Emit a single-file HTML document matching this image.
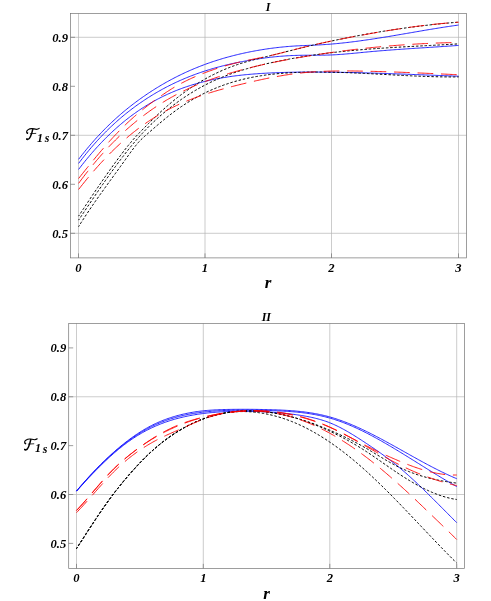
<!DOCTYPE html>
<html><head><meta charset="utf-8"><title>plot</title>
<style>
html,body{margin:0;padding:0;background:#fff;}
body{width:491px;height:601px;overflow:hidden;font-family:"Liberation Serif",serif;}
svg{display:block;}
.g{stroke:#b6b6b6;stroke-width:0.7;fill:none;}
.f{stroke:#747474;stroke-width:0.7;fill:none;}
.t{stroke:#747474;stroke-width:0.7;fill:none;}
.b{stroke:#0000ff;stroke-width:0.85;fill:none;}
.r{stroke:#ff0000;stroke-width:0.9;fill:none;stroke-dasharray:15.7 7.8;}
.k{stroke:#000;stroke-width:1.0;fill:none;stroke-dasharray:2.5 1.8;stroke-dashoffset:1}
text{filter:grayscale(1);font-family:"Liberation Serif",serif;font-weight:bold;font-style:italic;fill:#000;}
.n{font-size:12.6px;}
.ti{font-size:12px;}
.ax{font-size:17px;}
.sub{font-size:12px;}
</style></head><body>
<svg width="491" height="601" viewBox="0 0 491 601">
<rect x="0" y="0" width="491" height="601" fill="#fff"/>
<!-- top plot -->
<line class="g" x1="78.50" y1="13.5" x2="78.50" y2="257.9"/>
<line class="g" x1="205.00" y1="13.5" x2="205.00" y2="257.9"/>
<line class="g" x1="331.50" y1="13.5" x2="331.50" y2="257.9"/>
<line class="g" x1="458.50" y1="13.5" x2="458.50" y2="257.9"/>
<line class="g" x1="70.5" y1="37.30" x2="466.4" y2="37.30"/>
<line class="g" x1="70.5" y1="135.30" x2="466.4" y2="135.30"/>
<line class="g" x1="70.5" y1="233.30" x2="466.4" y2="233.30"/>
<rect class="f" x="70.5" y="13.5" width="395.90" height="244.40"/>
<line class="t" x1="78.50" y1="257.9" x2="78.50" y2="253.39999999999998"/>
<line class="t" x1="205.00" y1="257.9" x2="205.00" y2="253.39999999999998"/>
<line class="t" x1="331.50" y1="257.9" x2="331.50" y2="253.39999999999998"/>
<line class="t" x1="458.50" y1="257.9" x2="458.50" y2="253.39999999999998"/>
<line class="t" x1="70.5" y1="37.30" x2="75.0" y2="37.30"/>
<line class="t" x1="70.5" y1="86.30" x2="75.0" y2="86.30"/>
<line class="t" x1="70.5" y1="135.30" x2="75.0" y2="135.30"/>
<line class="t" x1="70.5" y1="184.30" x2="75.0" y2="184.30"/>
<line class="t" x1="70.5" y1="233.30" x2="75.0" y2="233.30"/>
<text class="n" x="78.50" y="271.7" text-anchor="middle">0</text>
<text class="n" x="205.00" y="271.7" text-anchor="middle">1</text>
<text class="n" x="331.50" y="271.7" text-anchor="middle">2</text>
<text class="n" x="458.50" y="271.7" text-anchor="middle">3</text>
<text class="n" x="68.0" y="41.70" text-anchor="end">0.9</text>
<text class="n" x="68.0" y="90.70" text-anchor="end">0.8</text>
<text class="n" x="68.0" y="139.70" text-anchor="end">0.7</text>
<text class="n" x="68.0" y="188.70" text-anchor="end">0.6</text>
<text class="n" x="68.0" y="237.70" text-anchor="end">0.5</text>
<path class="b" d="M78.60,159.32 L79.87,157.67 L81.14,156.03 L82.41,154.42 L83.68,152.83 L84.95,151.25 L86.23,149.70 L87.50,148.16 L88.77,146.65 L90.04,145.15 L91.31,143.67 L92.58,142.21 L93.85,140.77 L95.12,139.35 L96.39,137.94 L97.66,136.56 L98.93,135.19 L100.21,133.83 L101.48,132.50 L102.75,131.18 L104.02,129.88 L105.29,128.59 L106.56,127.32 L107.83,126.07 L109.10,124.83 L110.37,123.61 L111.64,122.40 L112.91,121.21 L114.19,120.04 L115.46,118.87 L116.73,117.73 L118.00,116.59 L119.27,115.47 L120.54,114.37 L121.81,113.28 L123.08,112.20 L124.35,111.14 L125.62,110.09 L126.89,109.05 L128.17,108.02 L129.44,107.01 L130.71,106.01 L131.98,105.02 L133.25,104.04 L134.52,103.08 L135.79,102.12 L137.06,101.18 L138.33,100.25 L139.60,99.32 L140.87,98.41 L142.15,97.51 L143.42,96.62 L144.69,95.74 L145.96,94.87 L147.23,94.01 L148.50,93.16 L149.77,92.32 L151.04,91.49 L152.31,90.67 L153.58,89.86 L154.85,89.06 L156.13,88.26 L157.40,87.48 L158.67,86.71 L159.94,85.94 L161.21,85.19 L162.48,84.44 L163.75,83.71 L165.02,82.98 L166.29,82.26 L167.56,81.55 L168.83,80.85 L170.11,80.16 L171.38,79.48 L172.65,78.80 L173.92,78.14 L175.19,77.48 L176.46,76.83 L177.73,76.20 L179.00,75.56 L180.27,74.94 L181.54,74.33 L182.81,73.72 L184.08,73.12 L185.36,72.53 L186.63,71.95 L187.90,71.38 L189.17,70.81 L190.44,70.25 L191.71,69.70 L192.98,69.16 L194.25,68.63 L195.52,68.10 L196.79,67.58 L198.06,67.07 L199.34,66.57 L200.61,66.07 L201.88,65.58 L203.15,65.10 L204.42,64.62 L205.69,64.15 L206.96,63.69 L208.23,63.24 L209.50,62.79 L210.77,62.35 L212.04,61.92 L213.32,61.49 L214.59,61.08 L215.86,60.66 L217.13,60.26 L218.40,59.86 L219.67,59.46 L220.94,59.08 L222.21,58.70 L223.48,58.32 L224.75,57.96 L226.02,57.59 L227.30,57.24 L228.57,56.89 L229.84,56.55 L231.11,56.21 L232.38,55.88 L233.65,55.55 L234.92,55.23 L236.19,54.92 L237.46,54.61 L238.73,54.31 L240.00,54.01 L241.28,53.72 L242.55,53.43 L243.82,53.15 L245.09,52.88 L246.36,52.61 L247.63,52.34 L248.90,52.08 L250.17,51.82 L251.44,51.57 L252.71,51.33 L253.98,51.09 L255.26,50.85 L256.53,50.62 L257.80,50.40 L259.07,50.18 L260.34,49.96 L261.61,49.75 L262.88,49.55 L264.15,49.35 L265.42,49.15 L266.69,48.96 L267.96,48.78 L269.24,48.60 L270.51,48.42 L271.78,48.25 L273.05,48.08 L274.32,47.92 L275.59,47.77 L276.86,47.62 L278.13,47.47 L279.40,47.33 L280.67,47.20 L281.94,47.07 L283.22,46.94 L284.49,46.82 L285.76,46.70 L287.03,46.59 L288.30,46.49 L289.57,46.39 L290.84,46.29 L292.11,46.20 L293.38,46.11 L294.65,46.03 L295.92,45.96 L297.20,45.88 L298.47,45.82 L299.74,45.75 L301.01,45.69 L302.28,45.63 L303.55,45.58 L304.82,45.52 L306.09,45.47 L307.36,45.42 L308.63,45.37 L309.90,45.32 L311.18,45.27 L312.45,45.21 L313.72,45.16 L314.99,45.10 L316.26,45.05 L317.53,44.98 L318.80,44.92 L320.07,44.85 L321.34,44.78 L322.61,44.70 L323.88,44.62 L325.16,44.54 L326.43,44.45 L327.70,44.36 L328.97,44.26 L330.24,44.16 L331.51,44.05 L332.78,43.95 L334.05,43.84 L335.32,43.72 L336.59,43.60 L337.86,43.48 L339.14,43.36 L340.41,43.23 L341.68,43.10 L342.95,42.96 L344.22,42.82 L345.49,42.68 L346.76,42.54 L348.03,42.39 L349.30,42.24 L350.57,42.09 L351.84,41.93 L353.12,41.77 L354.39,41.61 L355.66,41.45 L356.93,41.28 L358.20,41.11 L359.47,40.94 L360.74,40.77 L362.01,40.59 L363.28,40.42 L364.55,40.24 L365.82,40.05 L367.09,39.87 L368.37,39.68 L369.64,39.50 L370.91,39.30 L372.18,39.11 L373.45,38.92 L374.72,38.72 L375.99,38.53 L377.26,38.33 L378.53,38.13 L379.80,37.93 L381.07,37.72 L382.35,37.52 L383.62,37.31 L384.89,37.11 L386.16,36.90 L387.43,36.69 L388.70,36.48 L389.97,36.27 L391.24,36.05 L392.51,35.84 L393.78,35.63 L395.05,35.41 L396.33,35.20 L397.60,34.98 L398.87,34.76 L400.14,34.55 L401.41,34.33 L402.68,34.11 L403.95,33.89 L405.22,33.68 L406.49,33.46 L407.76,33.24 L409.03,33.02 L410.31,32.80 L411.58,32.58 L412.85,32.36 L414.12,32.14 L415.39,31.92 L416.66,31.71 L417.93,31.49 L419.20,31.27 L420.47,31.05 L421.74,30.84 L423.01,30.62 L424.29,30.40 L425.56,30.19 L426.83,29.97 L428.10,29.76 L429.37,29.55 L430.64,29.34 L431.91,29.13 L433.18,28.92 L434.45,28.71 L435.72,28.50 L436.99,28.29 L438.27,28.09 L439.54,27.88 L440.81,27.68 L442.08,27.48 L443.35,27.28 L444.62,27.08 L445.89,26.89 L447.16,26.69 L448.43,26.50 L449.70,26.31 L450.97,26.12 L452.25,25.93 L453.52,25.75 L454.79,25.57 L456.06,25.39 L457.33,25.21 L458.60,25.03"/>
<path class="b" d="M78.60,163.42 L79.87,161.73 L81.14,160.07 L82.41,158.42 L83.68,156.80 L84.95,155.20 L86.23,153.62 L87.50,152.06 L88.77,150.52 L90.04,149.00 L91.31,147.50 L92.58,146.02 L93.85,144.56 L95.12,143.13 L96.39,141.71 L97.66,140.31 L98.93,138.92 L100.21,137.56 L101.48,136.22 L102.75,134.89 L104.02,133.58 L105.29,132.29 L106.56,131.02 L107.83,129.76 L109.10,128.52 L110.37,127.30 L111.64,126.10 L112.91,124.91 L114.19,123.74 L115.46,122.58 L116.73,121.44 L118.00,120.32 L119.27,119.21 L120.54,118.11 L121.81,117.03 L123.08,115.97 L124.35,114.92 L125.62,113.88 L126.89,112.86 L128.17,111.86 L129.44,110.86 L130.71,109.88 L131.98,108.92 L133.25,107.96 L134.52,107.02 L135.79,106.09 L137.06,105.17 L138.33,104.27 L139.60,103.38 L140.87,102.50 L142.15,101.63 L143.42,100.77 L144.69,99.92 L145.96,99.09 L147.23,98.26 L148.50,97.45 L149.77,96.65 L151.04,95.86 L152.31,95.08 L153.58,94.30 L154.85,93.54 L156.13,92.79 L157.40,92.06 L158.67,91.33 L159.94,90.61 L161.21,89.90 L162.48,89.20 L163.75,88.51 L165.02,87.83 L166.29,87.16 L167.56,86.50 L168.83,85.85 L170.11,85.21 L171.38,84.58 L172.65,83.96 L173.92,83.34 L175.19,82.74 L176.46,82.15 L177.73,81.56 L179.00,80.98 L180.27,80.41 L181.54,79.85 L182.81,79.30 L184.08,78.76 L185.36,78.23 L186.63,77.70 L187.90,77.19 L189.17,76.68 L190.44,76.17 L191.71,75.68 L192.98,75.20 L194.25,74.72 L195.52,74.25 L196.79,73.79 L198.06,73.33 L199.34,72.89 L200.61,72.45 L201.88,72.02 L203.15,71.59 L204.42,71.17 L205.69,70.76 L206.96,70.36 L208.23,69.96 L209.50,69.57 L210.77,69.19 L212.04,68.81 L213.32,68.44 L214.59,68.08 L215.86,67.72 L217.13,67.37 L218.40,67.03 L219.67,66.69 L220.94,66.36 L222.21,66.03 L223.48,65.71 L224.75,65.39 L226.02,65.08 L227.30,64.78 L228.57,64.48 L229.84,64.19 L231.11,63.90 L232.38,63.62 L233.65,63.34 L234.92,63.07 L236.19,62.80 L237.46,62.54 L238.73,62.29 L240.00,62.03 L241.28,61.79 L242.55,61.54 L243.82,61.30 L245.09,61.07 L246.36,60.84 L247.63,60.61 L248.90,60.39 L250.17,60.17 L251.44,59.96 L252.71,59.75 L253.98,59.55 L255.26,59.34 L256.53,59.15 L257.80,58.96 L259.07,58.77 L260.34,58.58 L261.61,58.40 L262.88,58.23 L264.15,58.06 L265.42,57.89 L266.69,57.73 L267.96,57.57 L269.24,57.42 L270.51,57.27 L271.78,57.13 L273.05,56.99 L274.32,56.86 L275.59,56.73 L276.86,56.61 L278.13,56.49 L279.40,56.38 L280.67,56.28 L281.94,56.17 L283.22,56.08 L284.49,55.99 L285.76,55.90 L287.03,55.82 L288.30,55.74 L289.57,55.68 L290.84,55.61 L292.11,55.55 L293.38,55.50 L294.65,55.46 L295.92,55.41 L297.20,55.38 L298.47,55.35 L299.74,55.32 L301.01,55.30 L302.28,55.28 L303.55,55.27 L304.82,55.26 L306.09,55.25 L307.36,55.24 L308.63,55.24 L309.90,55.23 L311.18,55.23 L312.45,55.23 L313.72,55.23 L314.99,55.22 L316.26,55.22 L317.53,55.21 L318.80,55.20 L320.07,55.19 L321.34,55.18 L322.61,55.17 L323.88,55.15 L325.16,55.12 L326.43,55.10 L327.70,55.07 L328.97,55.03 L330.24,54.98 L331.51,54.94 L332.78,54.88 L334.05,54.82 L335.32,54.75 L336.59,54.68 L337.86,54.60 L339.14,54.51 L340.41,54.42 L341.68,54.33 L342.95,54.23 L344.22,54.13 L345.49,54.03 L346.76,53.92 L348.03,53.81 L349.30,53.69 L350.57,53.58 L351.84,53.46 L353.12,53.34 L354.39,53.22 L355.66,53.10 L356.93,52.97 L358.20,52.85 L359.47,52.72 L360.74,52.60 L362.01,52.48 L363.28,52.35 L364.55,52.23 L365.82,52.11 L367.09,51.99 L368.37,51.87 L369.64,51.76 L370.91,51.64 L372.18,51.53 L373.45,51.41 L374.72,51.30 L375.99,51.19 L377.26,51.09 L378.53,50.98 L379.80,50.87 L381.07,50.77 L382.35,50.67 L383.62,50.57 L384.89,50.47 L386.16,50.37 L387.43,50.27 L388.70,50.17 L389.97,50.07 L391.24,49.98 L392.51,49.88 L393.78,49.79 L395.05,49.70 L396.33,49.60 L397.60,49.51 L398.87,49.42 L400.14,49.33 L401.41,49.24 L402.68,49.16 L403.95,49.07 L405.22,48.98 L406.49,48.89 L407.76,48.81 L409.03,48.72 L410.31,48.64 L411.58,48.55 L412.85,48.47 L414.12,48.39 L415.39,48.30 L416.66,48.22 L417.93,48.14 L419.20,48.05 L420.47,47.97 L421.74,47.89 L423.01,47.81 L424.29,47.72 L425.56,47.64 L426.83,47.56 L428.10,47.48 L429.37,47.39 L430.64,47.31 L431.91,47.23 L433.18,47.15 L434.45,47.06 L435.72,46.98 L436.99,46.90 L438.27,46.82 L439.54,46.73 L440.81,46.65 L442.08,46.56 L443.35,46.48 L444.62,46.39 L445.89,46.31 L447.16,46.22 L448.43,46.14 L449.70,46.05 L450.97,45.96 L452.25,45.87 L453.52,45.78 L454.79,45.69 L456.06,45.60 L457.33,45.51 L458.60,45.42"/>
<path class="b" d="M78.60,169.41 L79.87,167.75 L81.14,166.11 L82.41,164.49 L83.68,162.89 L84.95,161.31 L86.23,159.75 L87.50,158.20 L88.77,156.68 L90.04,155.17 L91.31,153.69 L92.58,152.22 L93.85,150.77 L95.12,149.34 L96.39,147.93 L97.66,146.54 L98.93,145.16 L100.21,143.81 L101.48,142.47 L102.75,141.15 L104.02,139.84 L105.29,138.55 L106.56,137.29 L107.83,136.03 L109.10,134.80 L110.37,133.58 L111.64,132.38 L112.91,131.19 L114.19,130.03 L115.46,128.87 L116.73,127.74 L118.00,126.62 L119.27,125.52 L120.54,124.43 L121.81,123.36 L123.08,122.30 L124.35,121.26 L125.62,120.24 L126.89,119.23 L128.17,118.24 L129.44,117.26 L130.71,116.29 L131.98,115.34 L133.25,114.41 L134.52,113.49 L135.79,112.58 L137.06,111.69 L138.33,110.81 L139.60,109.95 L140.87,109.10 L142.15,108.26 L143.42,107.44 L144.69,106.63 L145.96,105.84 L147.23,105.06 L148.50,104.29 L149.77,103.53 L151.04,102.79 L152.31,102.06 L153.58,101.34 L154.85,100.64 L156.13,99.94 L157.40,99.26 L158.67,98.60 L159.94,97.94 L161.21,97.30 L162.48,96.66 L163.75,96.04 L165.02,95.43 L166.29,94.83 L167.56,94.25 L168.83,93.67 L170.11,93.11 L171.38,92.55 L172.65,92.01 L173.92,91.48 L175.19,90.95 L176.46,90.44 L177.73,89.94 L179.00,89.45 L180.27,88.97 L181.54,88.49 L182.81,88.03 L184.08,87.58 L185.36,87.14 L186.63,86.70 L187.90,86.28 L189.17,85.86 L190.44,85.45 L191.71,85.06 L192.98,84.67 L194.25,84.29 L195.52,83.91 L196.79,83.55 L198.06,83.20 L199.34,82.85 L200.61,82.51 L201.88,82.18 L203.15,81.85 L204.42,81.53 L205.69,81.22 L206.96,80.92 L208.23,80.63 L209.50,80.34 L210.77,80.06 L212.04,79.78 L213.32,79.52 L214.59,79.26 L215.86,79.00 L217.13,78.76 L218.40,78.52 L219.67,78.28 L220.94,78.05 L222.21,77.83 L223.48,77.61 L224.75,77.40 L226.02,77.20 L227.30,77.00 L228.57,76.81 L229.84,76.62 L231.11,76.44 L232.38,76.26 L233.65,76.09 L234.92,75.92 L236.19,75.76 L237.46,75.61 L238.73,75.45 L240.00,75.31 L241.28,75.17 L242.55,75.03 L243.82,74.90 L245.09,74.77 L246.36,74.64 L247.63,74.52 L248.90,74.41 L250.17,74.29 L251.44,74.19 L252.71,74.08 L253.98,73.98 L255.26,73.88 L256.53,73.79 L257.80,73.70 L259.07,73.61 L260.34,73.53 L261.61,73.45 L262.88,73.37 L264.15,73.30 L265.42,73.22 L266.69,73.15 L267.96,73.09 L269.24,73.02 L270.51,72.96 L271.78,72.90 L273.05,72.85 L274.32,72.79 L275.59,72.74 L276.86,72.69 L278.13,72.64 L279.40,72.59 L280.67,72.55 L281.94,72.51 L283.22,72.47 L284.49,72.43 L285.76,72.40 L287.03,72.36 L288.30,72.33 L289.57,72.30 L290.84,72.27 L292.11,72.25 L293.38,72.22 L294.65,72.20 L295.92,72.18 L297.20,72.16 L298.47,72.14 L299.74,72.13 L301.01,72.12 L302.28,72.10 L303.55,72.09 L304.82,72.08 L306.09,72.08 L307.36,72.07 L308.63,72.06 L309.90,72.06 L311.18,72.06 L312.45,72.06 L313.72,72.06 L314.99,72.06 L316.26,72.06 L317.53,72.07 L318.80,72.07 L320.07,72.08 L321.34,72.09 L322.61,72.10 L323.88,72.11 L325.16,72.12 L326.43,72.13 L327.70,72.14 L328.97,72.16 L330.24,72.17 L331.51,72.19 L332.78,72.20 L334.05,72.22 L335.32,72.24 L336.59,72.26 L337.86,72.28 L339.14,72.30 L340.41,72.32 L341.68,72.34 L342.95,72.37 L344.22,72.39 L345.49,72.41 L346.76,72.44 L348.03,72.46 L349.30,72.49 L350.57,72.52 L351.84,72.55 L353.12,72.57 L354.39,72.60 L355.66,72.63 L356.93,72.66 L358.20,72.69 L359.47,72.73 L360.74,72.76 L362.01,72.79 L363.28,72.83 L364.55,72.86 L365.82,72.89 L367.09,72.93 L368.37,72.96 L369.64,73.00 L370.91,73.04 L372.18,73.07 L373.45,73.11 L374.72,73.15 L375.99,73.19 L377.26,73.23 L378.53,73.27 L379.80,73.31 L381.07,73.35 L382.35,73.39 L383.62,73.43 L384.89,73.47 L386.16,73.51 L387.43,73.56 L388.70,73.60 L389.97,73.64 L391.24,73.69 L392.51,73.73 L393.78,73.77 L395.05,73.82 L396.33,73.86 L397.60,73.91 L398.87,73.95 L400.14,74.00 L401.41,74.04 L402.68,74.09 L403.95,74.14 L405.22,74.18 L406.49,74.23 L407.76,74.28 L409.03,74.33 L410.31,74.37 L411.58,74.42 L412.85,74.47 L414.12,74.52 L415.39,74.56 L416.66,74.61 L417.93,74.66 L419.20,74.71 L420.47,74.76 L421.74,74.81 L423.01,74.85 L424.29,74.90 L425.56,74.95 L426.83,75.00 L428.10,75.05 L429.37,75.10 L430.64,75.15 L431.91,75.20 L433.18,75.25 L434.45,75.29 L435.72,75.34 L436.99,75.39 L438.27,75.44 L439.54,75.49 L440.81,75.54 L442.08,75.59 L443.35,75.64 L444.62,75.68 L445.89,75.73 L447.16,75.78 L448.43,75.83 L449.70,75.88 L450.97,75.93 L452.25,75.97 L453.52,76.02 L454.79,76.07 L456.06,76.11 L457.33,76.16 L458.60,76.21"/>
<path class="k" d="M78.60,216.15 L79.87,214.21 L81.14,212.28 L82.41,210.35 L83.68,208.43 L84.95,206.51 L86.23,204.59 L87.50,202.68 L88.77,200.77 L90.04,198.87 L91.31,196.98 L92.58,195.08 L93.85,193.20 L95.12,191.32 L96.39,189.45 L97.66,187.58 L98.93,185.72 L100.21,183.87 L101.48,182.02 L102.75,180.19 L104.02,178.36 L105.29,176.54 L106.56,174.72 L107.83,172.92 L109.10,171.12 L110.37,169.34 L111.64,167.56 L112.91,165.79 L114.19,164.04 L115.46,162.29 L116.73,160.55 L118.00,158.82 L119.27,157.11 L120.54,155.41 L121.81,153.72 L123.08,152.05 L124.35,150.40 L125.62,148.77 L126.89,147.16 L128.17,145.58 L129.44,144.02 L130.71,142.48 L131.98,140.98 L133.25,139.50 L134.52,138.05 L135.79,136.64 L137.06,135.27 L138.33,133.92 L139.60,132.59 L140.87,131.28 L142.15,129.97 L143.42,128.67 L144.69,127.38 L145.96,126.09 L147.23,124.82 L148.50,123.55 L149.77,122.29 L151.04,121.04 L152.31,119.80 L153.58,118.57 L154.85,117.35 L156.13,116.14 L157.40,114.94 L158.67,113.75 L159.94,112.57 L161.21,111.40 L162.48,110.24 L163.75,109.10 L165.02,107.96 L166.29,106.84 L167.56,105.73 L168.83,104.64 L170.11,103.55 L171.38,102.48 L172.65,101.43 L173.92,100.39 L175.19,99.36 L176.46,98.34 L177.73,97.34 L179.00,96.35 L180.27,95.38 L181.54,94.42 L182.81,93.48 L184.08,92.54 L185.36,91.62 L186.63,90.72 L187.90,89.83 L189.17,88.95 L190.44,88.08 L191.71,87.23 L192.98,86.39 L194.25,85.56 L195.52,84.75 L196.79,83.94 L198.06,83.15 L199.34,82.38 L200.61,81.61 L201.88,80.86 L203.15,80.12 L204.42,79.40 L205.69,78.68 L206.96,77.98 L208.23,77.29 L209.50,76.61 L210.77,75.94 L212.04,75.29 L213.32,74.65 L214.59,74.02 L215.86,73.40 L217.13,72.79 L218.40,72.19 L219.67,71.61 L220.94,71.03 L222.21,70.47 L223.48,69.92 L224.75,69.38 L226.02,68.85 L227.30,68.33 L228.57,67.82 L229.84,67.33 L231.11,66.84 L232.38,66.36 L233.65,65.90 L234.92,65.44 L236.19,65.00 L237.46,64.57 L238.73,64.14 L240.00,63.73 L241.28,63.33 L242.55,62.93 L243.82,62.54 L245.09,62.17 L246.36,61.80 L247.63,61.43 L248.90,61.08 L250.17,60.73 L251.44,60.38 L252.71,60.04 L253.98,59.71 L255.26,59.38 L256.53,59.05 L257.80,58.73 L259.07,58.41 L260.34,58.09 L261.61,57.78 L262.88,57.47 L264.15,57.16 L265.42,56.85 L266.69,56.54 L267.96,56.23 L269.24,55.92 L270.51,55.60 L271.78,55.29 L273.05,54.98 L274.32,54.66 L275.59,54.35 L276.86,54.03 L278.13,53.71 L279.40,53.40 L280.67,53.08 L281.94,52.76 L283.22,52.44 L284.49,52.12 L285.76,51.80 L287.03,51.48 L288.30,51.17 L289.57,50.85 L290.84,50.53 L292.11,50.21 L293.38,49.90 L294.65,49.58 L295.92,49.26 L297.20,48.95 L298.47,48.64 L299.74,48.33 L301.01,48.02 L302.28,47.71 L303.55,47.40 L304.82,47.09 L306.09,46.79 L307.36,46.49 L308.63,46.19 L309.90,45.89 L311.18,45.59 L312.45,45.29 L313.72,45.00 L314.99,44.70 L316.26,44.41 L317.53,44.12 L318.80,43.83 L320.07,43.55 L321.34,43.26 L322.61,42.98 L323.88,42.69 L325.16,42.41 L326.43,42.13 L327.70,41.86 L328.97,41.58 L330.24,41.30 L331.51,41.03 L332.78,40.76 L334.05,40.49 L335.32,40.22 L336.59,39.96 L337.86,39.69 L339.14,39.43 L340.41,39.17 L341.68,38.91 L342.95,38.65 L344.22,38.39 L345.49,38.13 L346.76,37.88 L348.03,37.63 L349.30,37.38 L350.57,37.13 L351.84,36.88 L353.12,36.64 L354.39,36.39 L355.66,36.15 L356.93,35.91 L358.20,35.67 L359.47,35.43 L360.74,35.20 L362.01,34.96 L363.28,34.73 L364.55,34.50 L365.82,34.27 L367.09,34.04 L368.37,33.82 L369.64,33.59 L370.91,33.37 L372.18,33.15 L373.45,32.93 L374.72,32.71 L375.99,32.49 L377.26,32.28 L378.53,32.07 L379.80,31.86 L381.07,31.65 L382.35,31.44 L383.62,31.23 L384.89,31.03 L386.16,30.83 L387.43,30.63 L388.70,30.43 L389.97,30.23 L391.24,30.03 L392.51,29.84 L393.78,29.65 L395.05,29.46 L396.33,29.27 L397.60,29.08 L398.87,28.90 L400.14,28.71 L401.41,28.53 L402.68,28.35 L403.95,28.17 L405.22,27.99 L406.49,27.82 L407.76,27.64 L409.03,27.47 L410.31,27.30 L411.58,27.13 L412.85,26.97 L414.12,26.80 L415.39,26.64 L416.66,26.48 L417.93,26.32 L419.20,26.16 L420.47,26.01 L421.74,25.85 L423.01,25.70 L424.29,25.55 L425.56,25.40 L426.83,25.25 L428.10,25.11 L429.37,24.96 L430.64,24.82 L431.91,24.68 L433.18,24.54 L434.45,24.40 L435.72,24.27 L436.99,24.14 L438.27,24.01 L439.54,23.88 L440.81,23.75 L442.08,23.62 L443.35,23.50 L444.62,23.38 L445.89,23.26 L447.16,23.14 L448.43,23.02 L449.70,22.90 L450.97,22.79 L452.25,22.68 L453.52,22.57 L454.79,22.46 L456.06,22.36 L457.33,22.25 L458.60,22.15"/>
<path class="k" d="M78.60,220.12 L79.87,218.22 L81.14,216.31 L82.41,214.41 L83.68,212.51 L84.95,210.61 L86.23,208.71 L87.50,206.81 L88.77,204.92 L90.04,203.03 L91.31,201.14 L92.58,199.26 L93.85,197.38 L95.12,195.50 L96.39,193.63 L97.66,191.76 L98.93,189.91 L100.21,188.05 L101.48,186.21 L102.75,184.37 L104.02,182.54 L105.29,180.72 L106.56,178.91 L107.83,177.10 L109.10,175.31 L110.37,173.53 L111.64,171.75 L112.91,169.99 L114.19,168.24 L115.46,166.50 L116.73,164.77 L118.00,163.06 L119.27,161.36 L120.54,159.67 L121.81,158.00 L123.08,156.34 L124.35,154.70 L125.62,153.07 L126.89,151.46 L128.17,149.87 L129.44,148.29 L130.71,146.73 L131.98,145.18 L133.25,143.66 L134.52,142.15 L135.79,140.67 L137.06,139.20 L138.33,137.75 L139.60,136.32 L140.87,134.92 L142.15,133.53 L143.42,132.17 L144.69,130.82 L145.96,129.50 L147.23,128.20 L148.50,126.91 L149.77,125.64 L151.04,124.40 L152.31,123.17 L153.58,121.96 L154.85,120.76 L156.13,119.59 L157.40,118.43 L158.67,117.29 L159.94,116.16 L161.21,115.05 L162.48,113.96 L163.75,112.88 L165.02,111.82 L166.29,110.77 L167.56,109.74 L168.83,108.72 L170.11,107.72 L171.38,106.73 L172.65,105.75 L173.92,104.78 L175.19,103.83 L176.46,102.90 L177.73,101.97 L179.00,101.06 L180.27,100.16 L181.54,99.27 L182.81,98.39 L184.08,97.53 L185.36,96.68 L186.63,95.84 L187.90,95.02 L189.17,94.21 L190.44,93.41 L191.71,92.62 L192.98,91.84 L194.25,91.08 L195.52,90.33 L196.79,89.59 L198.06,88.86 L199.34,88.14 L200.61,87.44 L201.88,86.74 L203.15,86.06 L204.42,85.39 L205.69,84.74 L206.96,84.09 L208.23,83.46 L209.50,82.83 L210.77,82.22 L212.04,81.62 L213.32,81.03 L214.59,80.45 L215.86,79.88 L217.13,79.32 L218.40,78.77 L219.67,78.24 L220.94,77.71 L222.21,77.19 L223.48,76.68 L224.75,76.17 L226.02,75.68 L227.30,75.20 L228.57,74.73 L229.84,74.26 L231.11,73.80 L232.38,73.35 L233.65,72.91 L234.92,72.48 L236.19,72.05 L237.46,71.63 L238.73,71.22 L240.00,70.82 L241.28,70.42 L242.55,70.03 L243.82,69.65 L245.09,69.27 L246.36,68.90 L247.63,68.54 L248.90,68.18 L250.17,67.83 L251.44,67.48 L252.71,67.14 L253.98,66.81 L255.26,66.48 L256.53,66.15 L257.80,65.83 L259.07,65.52 L260.34,65.21 L261.61,64.90 L262.88,64.60 L264.15,64.30 L265.42,64.01 L266.69,63.71 L267.96,63.43 L269.24,63.14 L270.51,62.86 L271.78,62.59 L273.05,62.31 L274.32,62.04 L275.59,61.77 L276.86,61.51 L278.13,61.24 L279.40,60.98 L280.67,60.73 L281.94,60.47 L283.22,60.22 L284.49,59.97 L285.76,59.73 L287.03,59.49 L288.30,59.25 L289.57,59.01 L290.84,58.78 L292.11,58.55 L293.38,58.32 L294.65,58.10 L295.92,57.87 L297.20,57.65 L298.47,57.44 L299.74,57.22 L301.01,57.01 L302.28,56.80 L303.55,56.60 L304.82,56.39 L306.09,56.19 L307.36,55.99 L308.63,55.80 L309.90,55.61 L311.18,55.42 L312.45,55.23 L313.72,55.04 L314.99,54.86 L316.26,54.68 L317.53,54.50 L318.80,54.33 L320.07,54.15 L321.34,53.98 L322.61,53.81 L323.88,53.65 L325.16,53.48 L326.43,53.32 L327.70,53.16 L328.97,53.01 L330.24,52.85 L331.51,52.70 L332.78,52.55 L334.05,52.40 L335.32,52.26 L336.59,52.12 L337.86,51.98 L339.14,51.84 L340.41,51.70 L341.68,51.57 L342.95,51.43 L344.22,51.30 L345.49,51.17 L346.76,51.05 L348.03,50.92 L349.30,50.80 L350.57,50.68 L351.84,50.56 L353.12,50.44 L354.39,50.33 L355.66,50.21 L356.93,50.10 L358.20,49.99 L359.47,49.88 L360.74,49.77 L362.01,49.67 L363.28,49.56 L364.55,49.46 L365.82,49.36 L367.09,49.26 L368.37,49.16 L369.64,49.06 L370.91,48.97 L372.18,48.87 L373.45,48.78 L374.72,48.69 L375.99,48.60 L377.26,48.51 L378.53,48.42 L379.80,48.33 L381.07,48.25 L382.35,48.16 L383.62,48.08 L384.89,48.00 L386.16,47.91 L387.43,47.83 L388.70,47.75 L389.97,47.67 L391.24,47.60 L392.51,47.52 L393.78,47.44 L395.05,47.37 L396.33,47.29 L397.60,47.22 L398.87,47.14 L400.14,47.07 L401.41,47.00 L402.68,46.93 L403.95,46.85 L405.22,46.78 L406.49,46.71 L407.76,46.64 L409.03,46.57 L410.31,46.50 L411.58,46.44 L412.85,46.37 L414.12,46.30 L415.39,46.23 L416.66,46.16 L417.93,46.10 L419.20,46.03 L420.47,45.96 L421.74,45.90 L423.01,45.83 L424.29,45.76 L425.56,45.70 L426.83,45.63 L428.10,45.56 L429.37,45.50 L430.64,45.43 L431.91,45.36 L433.18,45.30 L434.45,45.23 L435.72,45.16 L436.99,45.09 L438.27,45.02 L439.54,44.96 L440.81,44.89 L442.08,44.82 L443.35,44.75 L444.62,44.68 L445.89,44.61 L447.16,44.54 L448.43,44.47 L449.70,44.40 L450.97,44.32 L452.25,44.25 L453.52,44.18 L454.79,44.10 L456.06,44.03 L457.33,43.95 L458.60,43.87"/>
<path class="k" d="M78.60,226.63 L79.87,224.60 L81.14,222.60 L82.41,220.61 L83.68,218.65 L84.95,216.70 L86.23,214.77 L87.50,212.85 L88.77,210.96 L90.04,209.07 L91.31,207.21 L92.58,205.35 L93.85,203.51 L95.12,201.68 L96.39,199.86 L97.66,198.06 L98.93,196.26 L100.21,194.47 L101.48,192.69 L102.75,190.91 L104.02,189.15 L105.29,187.38 L106.56,185.63 L107.83,183.87 L109.10,182.12 L110.37,180.38 L111.64,178.63 L112.91,176.88 L114.19,175.14 L115.46,173.39 L116.73,171.65 L118.00,169.90 L119.27,168.14 L120.54,166.38 L121.81,164.62 L123.08,162.85 L124.35,161.08 L125.62,159.30 L126.89,157.51 L128.17,155.72 L129.44,153.95 L130.71,152.19 L131.98,150.46 L133.25,148.77 L134.52,147.12 L135.79,145.52 L137.06,143.99 L138.33,142.52 L139.60,141.13 L140.87,139.82 L142.15,138.59 L143.42,137.42 L144.69,136.28 L145.96,135.16 L147.23,134.04 L148.50,132.92 L149.77,131.81 L151.04,130.70 L152.31,129.59 L153.58,128.49 L154.85,127.39 L156.13,126.30 L157.40,125.21 L158.67,124.13 L159.94,123.05 L161.21,121.99 L162.48,120.93 L163.75,119.88 L165.02,118.84 L166.29,117.81 L167.56,116.80 L168.83,115.79 L170.11,114.80 L171.38,113.82 L172.65,112.85 L173.92,111.90 L175.19,110.96 L176.46,110.04 L177.73,109.13 L179.00,108.23 L180.27,107.35 L181.54,106.49 L182.81,105.63 L184.08,104.80 L185.36,103.97 L186.63,103.16 L187.90,102.37 L189.17,101.58 L190.44,100.81 L191.71,100.06 L192.98,99.32 L194.25,98.59 L195.52,97.87 L196.79,97.17 L198.06,96.48 L199.34,95.80 L200.61,95.13 L201.88,94.48 L203.15,93.84 L204.42,93.21 L205.69,92.59 L206.96,91.99 L208.23,91.39 L209.50,90.81 L210.77,90.24 L212.04,89.68 L213.32,89.14 L214.59,88.60 L215.86,88.08 L217.13,87.56 L218.40,87.06 L219.67,86.57 L220.94,86.09 L222.21,85.62 L223.48,85.16 L224.75,84.71 L226.02,84.27 L227.30,83.84 L228.57,83.42 L229.84,83.01 L231.11,82.61 L232.38,82.22 L233.65,81.84 L234.92,81.47 L236.19,81.11 L237.46,80.76 L238.73,80.41 L240.00,80.08 L241.28,79.75 L242.55,79.44 L243.82,79.13 L245.09,78.83 L246.36,78.54 L247.63,78.25 L248.90,77.98 L250.17,77.71 L251.44,77.45 L252.71,77.20 L253.98,76.96 L255.26,76.72 L256.53,76.49 L257.80,76.27 L259.07,76.06 L260.34,75.85 L261.61,75.65 L262.88,75.46 L264.15,75.27 L265.42,75.09 L266.69,74.92 L267.96,74.75 L269.24,74.59 L270.51,74.44 L271.78,74.29 L273.05,74.15 L274.32,74.01 L275.59,73.88 L276.86,73.76 L278.13,73.64 L279.40,73.52 L280.67,73.41 L281.94,73.31 L283.22,73.21 L284.49,73.12 L285.76,73.03 L287.03,72.95 L288.30,72.87 L289.57,72.79 L290.84,72.72 L292.11,72.65 L293.38,72.59 L294.65,72.53 L295.92,72.48 L297.20,72.43 L298.47,72.38 L299.74,72.34 L301.01,72.30 L302.28,72.26 L303.55,72.22 L304.82,72.19 L306.09,72.17 L307.36,72.14 L308.63,72.12 L309.90,72.10 L311.18,72.09 L312.45,72.07 L313.72,72.06 L314.99,72.06 L316.26,72.05 L317.53,72.05 L318.80,72.05 L320.07,72.06 L321.34,72.06 L322.61,72.07 L323.88,72.08 L325.16,72.09 L326.43,72.11 L327.70,72.13 L328.97,72.15 L330.24,72.17 L331.51,72.19 L332.78,72.22 L334.05,72.25 L335.32,72.28 L336.59,72.31 L337.86,72.35 L339.14,72.38 L340.41,72.42 L341.68,72.46 L342.95,72.50 L344.22,72.54 L345.49,72.59 L346.76,72.63 L348.03,72.68 L349.30,72.73 L350.57,72.78 L351.84,72.83 L353.12,72.88 L354.39,72.94 L355.66,72.99 L356.93,73.05 L358.20,73.11 L359.47,73.17 L360.74,73.23 L362.01,73.29 L363.28,73.35 L364.55,73.41 L365.82,73.47 L367.09,73.54 L368.37,73.60 L369.64,73.67 L370.91,73.73 L372.18,73.80 L373.45,73.87 L374.72,73.93 L375.99,74.00 L377.26,74.07 L378.53,74.14 L379.80,74.20 L381.07,74.27 L382.35,74.34 L383.62,74.41 L384.89,74.48 L386.16,74.55 L387.43,74.62 L388.70,74.69 L389.97,74.76 L391.24,74.83 L392.51,74.89 L393.78,74.96 L395.05,75.03 L396.33,75.10 L397.60,75.16 L398.87,75.23 L400.14,75.30 L401.41,75.36 L402.68,75.43 L403.95,75.49 L405.22,75.55 L406.49,75.62 L407.76,75.68 L409.03,75.74 L410.31,75.80 L411.58,75.86 L412.85,75.92 L414.12,75.97 L415.39,76.03 L416.66,76.08 L417.93,76.14 L419.20,76.19 L420.47,76.24 L421.74,76.29 L423.01,76.34 L424.29,76.38 L425.56,76.43 L426.83,76.47 L428.10,76.51 L429.37,76.55 L430.64,76.59 L431.91,76.63 L433.18,76.66 L434.45,76.70 L435.72,76.73 L436.99,76.76 L438.27,76.78 L439.54,76.81 L440.81,76.83 L442.08,76.85 L443.35,76.87 L444.62,76.89 L445.89,76.90 L447.16,76.91 L448.43,76.92 L449.70,76.93 L450.97,76.94 L452.25,76.94 L453.52,76.94 L454.79,76.93 L456.06,76.93 L457.33,76.92 L458.60,76.91"/>
<path class="r" d="M78.60,178.52 L79.87,176.92 L81.14,175.32 L82.41,173.72 L83.68,172.13 L84.95,170.54 L86.23,168.95 L87.50,167.38 L88.77,165.80 L90.04,164.24 L91.31,162.68 L92.58,161.12 L93.85,159.58 L95.12,158.04 L96.39,156.51 L97.66,154.99 L98.93,153.47 L100.21,151.97 L101.48,150.48 L102.75,149.00 L104.02,147.52 L105.29,146.06 L106.56,144.62 L107.83,143.18 L109.10,141.75 L110.37,140.34 L111.64,138.95 L112.91,137.56 L114.19,136.19 L115.46,134.84 L116.73,133.50 L118.00,132.17 L119.27,130.86 L120.54,129.57 L121.81,128.30 L123.08,127.04 L124.35,125.80 L125.62,124.57 L126.89,123.36 L128.17,122.17 L129.44,120.99 L130.71,119.83 L131.98,118.69 L133.25,117.56 L134.52,116.44 L135.79,115.34 L137.06,114.26 L138.33,113.18 L139.60,112.12 L140.87,111.08 L142.15,110.04 L143.42,109.02 L144.69,108.01 L145.96,107.01 L147.23,106.03 L148.50,105.05 L149.77,104.08 L151.04,103.12 L152.31,102.18 L153.58,101.24 L154.85,100.31 L156.13,99.39 L157.40,98.47 L158.67,97.57 L159.94,96.67 L161.21,95.78 L162.48,94.90 L163.75,94.03 L165.02,93.17 L166.29,92.32 L167.56,91.48 L168.83,90.65 L170.11,89.84 L171.38,89.04 L172.65,88.26 L173.92,87.49 L175.19,86.73 L176.46,85.99 L177.73,85.27 L179.00,84.56 L180.27,83.86 L181.54,83.18 L182.81,82.52 L184.08,81.86 L185.36,81.22 L186.63,80.59 L187.90,79.98 L189.17,79.37 L190.44,78.78 L191.71,78.20 L192.98,77.63 L194.25,77.07 L195.52,76.52 L196.79,75.98 L198.06,75.44 L199.34,74.92 L200.61,74.41 L201.88,73.90 L203.15,73.40 L204.42,72.91 L205.69,72.43 L206.96,71.95 L208.23,71.48 L209.50,71.02 L210.77,70.57 L212.04,70.12 L213.32,69.68 L214.59,69.24 L215.86,68.81 L217.13,68.39 L218.40,67.98 L219.67,67.57 L220.94,67.17 L222.21,66.78 L223.48,66.39 L224.75,66.01 L226.02,65.64 L227.30,65.27 L228.57,64.91 L229.84,64.56 L231.11,64.22 L232.38,63.88 L233.65,63.55 L234.92,63.22 L236.19,62.90 L237.46,62.59 L238.73,62.29 L240.00,61.99 L241.28,61.70 L242.55,61.41 L243.82,61.13 L245.09,60.85 L246.36,60.58 L247.63,60.31 L248.90,60.04 L250.17,59.78 L251.44,59.52 L252.71,59.26 L253.98,59.00 L255.26,58.75 L256.53,58.49 L257.80,58.23 L259.07,57.98 L260.34,57.72 L261.61,57.46 L262.88,57.19 L264.15,56.93 L265.42,56.66 L266.69,56.39 L267.96,56.12 L269.24,55.84 L270.51,55.55 L271.78,55.26 L273.05,54.97 L274.32,54.67 L275.59,54.37 L276.86,54.06 L278.13,53.75 L279.40,53.44 L280.67,53.12 L281.94,52.81 L283.22,52.49 L284.49,52.16 L285.76,51.84 L287.03,51.51 L288.30,51.19 L289.57,50.86 L290.84,50.53 L292.11,50.20 L293.38,49.88 L294.65,49.55 L295.92,49.22 L297.20,48.90 L298.47,48.58 L299.74,48.26 L301.01,47.94 L302.28,47.62 L303.55,47.31 L304.82,46.99 L306.09,46.68 L307.36,46.38 L308.63,46.07 L309.90,45.77 L311.18,45.47 L312.45,45.18 L313.72,44.88 L314.99,44.59 L316.26,44.30 L317.53,44.01 L318.80,43.73 L320.07,43.45 L321.34,43.17 L322.61,42.89 L323.88,42.61 L325.16,42.34 L326.43,42.06 L327.70,41.79 L328.97,41.53 L330.24,41.26 L331.51,41.00 L332.78,40.73 L334.05,40.47 L335.32,40.21 L336.59,39.95 L337.86,39.70 L339.14,39.45 L340.41,39.19 L341.68,38.94 L342.95,38.69 L344.22,38.44 L345.49,38.20 L346.76,37.95 L348.03,37.71 L349.30,37.47 L350.57,37.23 L351.84,36.99 L353.12,36.75 L354.39,36.51 L355.66,36.28 L356.93,36.04 L358.20,35.81 L359.47,35.58 L360.74,35.35 L362.01,35.12 L363.28,34.89 L364.55,34.66 L365.82,34.43 L367.09,34.20 L368.37,33.98 L369.64,33.75 L370.91,33.53 L372.18,33.31 L373.45,33.09 L374.72,32.86 L375.99,32.65 L377.26,32.43 L378.53,32.21 L379.80,31.99 L381.07,31.78 L382.35,31.56 L383.62,31.35 L384.89,31.14 L386.16,30.93 L387.43,30.72 L388.70,30.52 L389.97,30.31 L391.24,30.11 L392.51,29.90 L393.78,29.70 L395.05,29.50 L396.33,29.31 L397.60,29.11 L398.87,28.91 L400.14,28.72 L401.41,28.53 L402.68,28.34 L403.95,28.15 L405.22,27.97 L406.49,27.78 L407.76,27.60 L409.03,27.42 L410.31,27.24 L411.58,27.07 L412.85,26.89 L414.12,26.72 L415.39,26.55 L416.66,26.38 L417.93,26.22 L419.20,26.05 L420.47,25.89 L421.74,25.73 L423.01,25.57 L424.29,25.42 L425.56,25.27 L426.83,25.12 L428.10,24.97 L429.37,24.82 L430.64,24.68 L431.91,24.54 L433.18,24.40 L434.45,24.27 L435.72,24.13 L436.99,24.00 L438.27,23.87 L439.54,23.75 L440.81,23.63 L442.08,23.51 L443.35,23.39 L444.62,23.28 L445.89,23.17 L447.16,23.06 L448.43,22.95 L449.70,22.85 L450.97,22.75 L452.25,22.65 L453.52,22.56 L454.79,22.47 L456.06,22.38 L457.33,22.30 L458.60,22.22"/>
<path class="r" d="M78.60,183.37 L79.87,181.64 L81.14,179.93 L82.41,178.23 L83.68,176.56 L84.95,174.90 L86.23,173.26 L87.50,171.63 L88.77,170.02 L90.04,168.43 L91.31,166.86 L92.58,165.30 L93.85,163.76 L95.12,162.24 L96.39,160.74 L97.66,159.25 L98.93,157.77 L100.21,156.31 L101.48,154.87 L102.75,153.45 L104.02,152.04 L105.29,150.65 L106.56,149.27 L107.83,147.91 L109.10,146.56 L110.37,145.23 L111.64,143.91 L112.91,142.61 L114.19,141.33 L115.46,140.06 L116.73,138.80 L118.00,137.56 L119.27,136.33 L120.54,135.12 L121.81,133.92 L123.08,132.74 L124.35,131.57 L125.62,130.42 L126.89,129.28 L128.17,128.15 L129.44,127.04 L130.71,125.94 L131.98,124.85 L133.25,123.78 L134.52,122.72 L135.79,121.68 L137.06,120.64 L138.33,119.62 L139.60,118.62 L140.87,117.62 L142.15,116.64 L143.42,115.68 L144.69,114.72 L145.96,113.78 L147.23,112.84 L148.50,111.93 L149.77,111.02 L151.04,110.12 L152.31,109.24 L153.58,108.37 L154.85,107.51 L156.13,106.66 L157.40,105.83 L158.67,105.00 L159.94,104.19 L161.21,103.38 L162.48,102.59 L163.75,101.81 L165.02,101.04 L166.29,100.28 L167.56,99.53 L168.83,98.79 L170.11,98.06 L171.38,97.34 L172.65,96.64 L173.92,95.94 L175.19,95.25 L176.46,94.57 L177.73,93.90 L179.00,93.24 L180.27,92.59 L181.54,91.95 L182.81,91.31 L184.08,90.69 L185.36,90.08 L186.63,89.47 L187.90,88.87 L189.17,88.28 L190.44,87.70 L191.71,87.13 L192.98,86.57 L194.25,86.01 L195.52,85.46 L196.79,84.92 L198.06,84.39 L199.34,83.86 L200.61,83.35 L201.88,82.84 L203.15,82.33 L204.42,81.84 L205.69,81.35 L206.96,80.87 L208.23,80.39 L209.50,79.92 L210.77,79.46 L212.04,79.00 L213.32,78.55 L214.59,78.11 L215.86,77.67 L217.13,77.24 L218.40,76.81 L219.67,76.39 L220.94,75.97 L222.21,75.56 L223.48,75.16 L224.75,74.76 L226.02,74.36 L227.30,73.97 L228.57,73.59 L229.84,73.21 L231.11,72.83 L232.38,72.46 L233.65,72.10 L234.92,71.73 L236.19,71.38 L237.46,71.02 L238.73,70.67 L240.00,70.32 L241.28,69.98 L242.55,69.64 L243.82,69.30 L245.09,68.97 L246.36,68.64 L247.63,68.32 L248.90,68.00 L250.17,67.68 L251.44,67.36 L252.71,67.05 L253.98,66.74 L255.26,66.44 L256.53,66.14 L257.80,65.84 L259.07,65.54 L260.34,65.25 L261.61,64.96 L262.88,64.67 L264.15,64.39 L265.42,64.11 L266.69,63.83 L267.96,63.55 L269.24,63.28 L270.51,63.01 L271.78,62.75 L273.05,62.48 L274.32,62.22 L275.59,61.96 L276.86,61.70 L278.13,61.45 L279.40,61.20 L280.67,60.95 L281.94,60.70 L283.22,60.45 L284.49,60.21 L285.76,59.97 L287.03,59.73 L288.30,59.50 L289.57,59.26 L290.84,59.03 L292.11,58.80 L293.38,58.57 L294.65,58.34 L295.92,58.12 L297.20,57.90 L298.47,57.68 L299.74,57.46 L301.01,57.24 L302.28,57.02 L303.55,56.81 L304.82,56.59 L306.09,56.38 L307.36,56.17 L308.63,55.96 L309.90,55.76 L311.18,55.55 L312.45,55.35 L313.72,55.15 L314.99,54.95 L316.26,54.75 L317.53,54.55 L318.80,54.35 L320.07,54.16 L321.34,53.97 L322.61,53.78 L323.88,53.59 L325.16,53.40 L326.43,53.21 L327.70,53.03 L328.97,52.84 L330.24,52.66 L331.51,52.48 L332.78,52.30 L334.05,52.13 L335.32,51.95 L336.59,51.78 L337.86,51.61 L339.14,51.44 L340.41,51.27 L341.68,51.10 L342.95,50.93 L344.22,50.77 L345.49,50.61 L346.76,50.45 L348.03,50.29 L349.30,50.13 L350.57,49.97 L351.84,49.82 L353.12,49.66 L354.39,49.51 L355.66,49.36 L356.93,49.21 L358.20,49.07 L359.47,48.92 L360.74,48.78 L362.01,48.64 L363.28,48.49 L364.55,48.36 L365.82,48.22 L367.09,48.08 L368.37,47.95 L369.64,47.82 L370.91,47.68 L372.18,47.55 L373.45,47.43 L374.72,47.30 L375.99,47.18 L377.26,47.05 L378.53,46.93 L379.80,46.81 L381.07,46.69 L382.35,46.58 L383.62,46.46 L384.89,46.35 L386.16,46.23 L387.43,46.12 L388.70,46.01 L389.97,45.91 L391.24,45.80 L392.51,45.70 L393.78,45.59 L395.05,45.49 L396.33,45.39 L397.60,45.30 L398.87,45.20 L400.14,45.10 L401.41,45.01 L402.68,44.92 L403.95,44.83 L405.22,44.74 L406.49,44.65 L407.76,44.57 L409.03,44.49 L410.31,44.40 L411.58,44.32 L412.85,44.24 L414.12,44.17 L415.39,44.09 L416.66,44.02 L417.93,43.94 L419.20,43.87 L420.47,43.80 L421.74,43.73 L423.01,43.67 L424.29,43.60 L425.56,43.54 L426.83,43.48 L428.10,43.42 L429.37,43.36 L430.64,43.30 L431.91,43.25 L433.18,43.19 L434.45,43.14 L435.72,43.09 L436.99,43.04 L438.27,43.00 L439.54,42.95 L440.81,42.91 L442.08,42.86 L443.35,42.82 L444.62,42.78 L445.89,42.75 L447.16,42.71 L448.43,42.67 L449.70,42.64 L450.97,42.61 L452.25,42.58 L453.52,42.55 L454.79,42.52 L456.06,42.50 L457.33,42.48 L458.60,42.45"/>
<path class="r" d="M78.60,189.46 L79.87,187.83 L81.14,186.21 L82.41,184.61 L83.68,183.03 L84.95,181.46 L86.23,179.90 L87.50,178.36 L88.77,176.83 L90.04,175.31 L91.31,173.81 L92.58,172.33 L93.85,170.86 L95.12,169.40 L96.39,167.96 L97.66,166.53 L98.93,165.12 L100.21,163.72 L101.48,162.33 L102.75,160.97 L104.02,159.61 L105.29,158.27 L106.56,156.95 L107.83,155.64 L109.10,154.34 L110.37,153.06 L111.64,151.79 L112.91,150.54 L114.19,149.30 L115.46,148.08 L116.73,146.88 L118.00,145.68 L119.27,144.50 L120.54,143.34 L121.81,142.19 L123.08,141.06 L124.35,139.94 L125.62,138.84 L126.89,137.75 L128.17,136.67 L129.44,135.61 L130.71,134.56 L131.98,133.53 L133.25,132.51 L134.52,131.50 L135.79,130.51 L137.06,129.53 L138.33,128.57 L139.60,127.62 L140.87,126.68 L142.15,125.76 L143.42,124.85 L144.69,123.95 L145.96,123.07 L147.23,122.20 L148.50,121.34 L149.77,120.50 L151.04,119.67 L152.31,118.85 L153.58,118.04 L154.85,117.25 L156.13,116.46 L157.40,115.70 L158.67,114.94 L159.94,114.19 L161.21,113.46 L162.48,112.74 L163.75,112.03 L165.02,111.34 L166.29,110.65 L167.56,109.98 L168.83,109.31 L170.11,108.66 L171.38,108.02 L172.65,107.39 L173.92,106.77 L175.19,106.15 L176.46,105.55 L177.73,104.96 L179.00,104.38 L180.27,103.81 L181.54,103.25 L182.81,102.70 L184.08,102.15 L185.36,101.62 L186.63,101.09 L187.90,100.57 L189.17,100.06 L190.44,99.56 L191.71,99.07 L192.98,98.58 L194.25,98.10 L195.52,97.63 L196.79,97.17 L198.06,96.71 L199.34,96.26 L200.61,95.82 L201.88,95.39 L203.15,94.96 L204.42,94.54 L205.69,94.12 L206.96,93.71 L208.23,93.30 L209.50,92.90 L210.77,92.51 L212.04,92.12 L213.32,91.74 L214.59,91.36 L215.86,90.99 L217.13,90.62 L218.40,90.25 L219.67,89.89 L220.94,89.54 L222.21,89.18 L223.48,88.84 L224.75,88.49 L226.02,88.15 L227.30,87.81 L228.57,87.48 L229.84,87.14 L231.11,86.81 L232.38,86.49 L233.65,86.16 L234.92,85.84 L236.19,85.52 L237.46,85.20 L238.73,84.88 L240.00,84.57 L241.28,84.26 L242.55,83.95 L243.82,83.64 L245.09,83.33 L246.36,83.02 L247.63,82.72 L248.90,82.42 L250.17,82.12 L251.44,81.82 L252.71,81.53 L253.98,81.24 L255.26,80.95 L256.53,80.67 L257.80,80.38 L259.07,80.10 L260.34,79.83 L261.61,79.55 L262.88,79.28 L264.15,79.01 L265.42,78.75 L266.69,78.49 L267.96,78.23 L269.24,77.98 L270.51,77.72 L271.78,77.48 L273.05,77.23 L274.32,77.00 L275.59,76.76 L276.86,76.53 L278.13,76.30 L279.40,76.08 L280.67,75.86 L281.94,75.64 L283.22,75.43 L284.49,75.23 L285.76,75.02 L287.03,74.83 L288.30,74.64 L289.57,74.45 L290.84,74.26 L292.11,74.09 L293.38,73.91 L294.65,73.75 L295.92,73.58 L297.20,73.43 L298.47,73.27 L299.74,73.13 L301.01,72.99 L302.28,72.85 L303.55,72.72 L304.82,72.60 L306.09,72.48 L307.36,72.36 L308.63,72.25 L309.90,72.15 L311.18,72.05 L312.45,71.96 L313.72,71.87 L314.99,71.78 L316.26,71.70 L317.53,71.63 L318.80,71.56 L320.07,71.49 L321.34,71.43 L322.61,71.37 L323.88,71.32 L325.16,71.27 L326.43,71.22 L327.70,71.18 L328.97,71.14 L330.24,71.11 L331.51,71.08 L332.78,71.05 L334.05,71.02 L335.32,71.00 L336.59,70.98 L337.86,70.97 L339.14,70.95 L340.41,70.95 L341.68,70.94 L342.95,70.93 L344.22,70.93 L345.49,70.93 L346.76,70.94 L348.03,70.94 L349.30,70.95 L350.57,70.96 L351.84,70.97 L353.12,70.99 L354.39,71.00 L355.66,71.02 L356.93,71.04 L358.20,71.06 L359.47,71.08 L360.74,71.10 L362.01,71.13 L363.28,71.15 L364.55,71.18 L365.82,71.20 L367.09,71.23 L368.37,71.26 L369.64,71.29 L370.91,71.32 L372.18,71.35 L373.45,71.39 L374.72,71.42 L375.99,71.45 L377.26,71.49 L378.53,71.52 L379.80,71.56 L381.07,71.60 L382.35,71.63 L383.62,71.67 L384.89,71.71 L386.16,71.75 L387.43,71.79 L388.70,71.83 L389.97,71.87 L391.24,71.92 L392.51,71.96 L393.78,72.00 L395.05,72.05 L396.33,72.09 L397.60,72.14 L398.87,72.18 L400.14,72.23 L401.41,72.28 L402.68,72.32 L403.95,72.37 L405.22,72.42 L406.49,72.47 L407.76,72.52 L409.03,72.57 L410.31,72.62 L411.58,72.67 L412.85,72.72 L414.12,72.77 L415.39,72.82 L416.66,72.88 L417.93,72.93 L419.20,72.98 L420.47,73.04 L421.74,73.09 L423.01,73.15 L424.29,73.20 L425.56,73.26 L426.83,73.31 L428.10,73.37 L429.37,73.42 L430.64,73.48 L431.91,73.54 L433.18,73.59 L434.45,73.65 L435.72,73.71 L436.99,73.77 L438.27,73.82 L439.54,73.88 L440.81,73.94 L442.08,74.00 L443.35,74.06 L444.62,74.12 L445.89,74.18 L447.16,74.24 L448.43,74.30 L449.70,74.36 L450.97,74.42 L452.25,74.48 L453.52,74.54 L454.79,74.60 L456.06,74.66 L457.33,74.72 L458.60,74.78"/>
<text class="ti" x="268" y="10.8" text-anchor="middle">I</text>
<text class="ax" x="268" y="288.3" text-anchor="middle">r</text>
<g transform="translate(26,128.2)" fill="none" stroke="#000" stroke-linecap="round">
<path d="M1.5,5.2 C0.2,4.6 0.4,2.6 1.8,1.7 C3.6,0.4 6.0,0.1 8.0,0.7 C10.0,1.3 11.8,1.4 13.2,0.2" stroke-width="1.15"/>
<path d="M6.8,0.9 C6.4,3 5.4,6.2 4.5,8.4 C3.8,10.2 2.8,11.3 1.6,11.4 C1.1,11.4 0.8,11.2 0.7,10.9" stroke-width="1.45"/>
<path d="M4.3,5.5 L9.8,5.2" stroke-width="0.8"/>
<circle cx="1.3" cy="4.7" r="0.5" fill="#000" stroke-width="0.4"/>
<circle cx="1.0" cy="10.8" r="0.5" fill="#000" stroke-width="0.4"/>
</g>
<text class="sub" x="37" y="142">1</text>
<text class="sub" x="44.8" y="142.2">s</text>
<!-- bottom plot -->
<line class="g" x1="76.50" y1="323.4" x2="76.50" y2="568.35"/>
<line class="g" x1="203.30" y1="323.4" x2="203.30" y2="568.35"/>
<line class="g" x1="329.80" y1="323.4" x2="329.80" y2="568.35"/>
<line class="g" x1="456.70" y1="323.4" x2="456.70" y2="568.35"/>
<line class="g" x1="68.7" y1="396.77" x2="464.35" y2="396.77"/>
<line class="g" x1="68.7" y1="494.51" x2="464.35" y2="494.51"/>
<rect class="f" x="68.7" y="323.4" width="395.65" height="244.95"/>
<line class="t" x1="76.50" y1="568.35" x2="76.50" y2="563.85"/>
<line class="t" x1="203.30" y1="568.35" x2="203.30" y2="563.85"/>
<line class="t" x1="329.80" y1="568.35" x2="329.80" y2="563.85"/>
<line class="t" x1="456.70" y1="568.35" x2="456.70" y2="563.85"/>
<line class="t" x1="68.7" y1="347.90" x2="73.2" y2="347.90"/>
<line class="t" x1="68.7" y1="396.77" x2="73.2" y2="396.77"/>
<line class="t" x1="68.7" y1="445.64" x2="73.2" y2="445.64"/>
<line class="t" x1="68.7" y1="494.51" x2="73.2" y2="494.51"/>
<line class="t" x1="68.7" y1="543.38" x2="73.2" y2="543.38"/>
<text class="n" x="76.50" y="581.9" text-anchor="middle">0</text>
<text class="n" x="203.30" y="581.9" text-anchor="middle">1</text>
<text class="n" x="329.80" y="581.9" text-anchor="middle">2</text>
<text class="n" x="456.70" y="581.9" text-anchor="middle">3</text>
<text class="n" x="66.2" y="352.30" text-anchor="end">0.9</text>
<text class="n" x="66.2" y="401.17" text-anchor="end">0.8</text>
<text class="n" x="66.2" y="450.04" text-anchor="end">0.7</text>
<text class="n" x="66.2" y="498.91" text-anchor="end">0.6</text>
<text class="n" x="66.2" y="547.78" text-anchor="end">0.5</text>
<path class="b" d="M76.50,491.04 L77.77,489.53 L79.04,488.03 L80.31,486.55 L81.59,485.08 L82.86,483.62 L84.13,482.17 L85.40,480.73 L86.67,479.31 L87.94,477.90 L89.22,476.51 L90.49,475.12 L91.76,473.75 L93.03,472.39 L94.30,471.05 L95.57,469.72 L96.85,468.40 L98.12,467.09 L99.39,465.80 L100.66,464.52 L101.93,463.26 L103.20,462.01 L104.47,460.77 L105.75,459.55 L107.02,458.34 L108.29,457.14 L109.56,455.96 L110.83,454.80 L112.10,453.64 L113.38,452.50 L114.65,451.38 L115.92,450.27 L117.19,449.18 L118.46,448.10 L119.73,447.03 L121.01,445.98 L122.28,444.95 L123.55,443.93 L124.82,442.92 L126.09,441.93 L127.36,440.96 L128.63,440.00 L129.91,439.05 L131.18,438.13 L132.45,437.21 L133.72,436.32 L134.99,435.44 L136.26,434.57 L137.54,433.73 L138.81,432.90 L140.08,432.08 L141.35,431.28 L142.62,430.50 L143.89,429.74 L145.16,429.00 L146.44,428.27 L147.71,427.56 L148.98,426.86 L150.25,426.19 L151.52,425.53 L152.79,424.90 L154.07,424.27 L155.34,423.67 L156.61,423.08 L157.88,422.51 L159.15,421.96 L160.42,421.42 L161.70,420.90 L162.97,420.39 L164.24,419.90 L165.51,419.42 L166.78,418.96 L168.05,418.51 L169.32,418.08 L170.60,417.66 L171.87,417.25 L173.14,416.85 L174.41,416.47 L175.68,416.10 L176.95,415.74 L178.23,415.40 L179.50,415.07 L180.77,414.74 L182.04,414.43 L183.31,414.13 L184.58,413.85 L185.86,413.57 L187.13,413.31 L188.40,413.05 L189.67,412.81 L190.94,412.57 L192.21,412.35 L193.48,412.14 L194.76,411.93 L196.03,411.74 L197.30,411.56 L198.57,411.38 L199.84,411.22 L201.11,411.07 L202.39,410.92 L203.66,410.78 L204.93,410.65 L206.20,410.53 L207.47,410.42 L208.74,410.32 L210.02,410.22 L211.29,410.13 L212.56,410.04 L213.83,409.97 L215.10,409.90 L216.37,409.83 L217.64,409.77 L218.92,409.71 L220.19,409.66 L221.46,409.62 L222.73,409.58 L224.00,409.54 L225.27,409.51 L226.55,409.48 L227.82,409.45 L229.09,409.43 L230.36,409.40 L231.63,409.38 L232.90,409.37 L234.17,409.35 L235.45,409.34 L236.72,409.33 L237.99,409.32 L239.26,409.31 L240.53,409.30 L241.80,409.30 L243.08,409.30 L244.35,409.30 L245.62,409.30 L246.89,409.31 L248.16,409.31 L249.43,409.32 L250.71,409.33 L251.98,409.34 L253.25,409.35 L254.52,409.37 L255.79,409.39 L257.06,409.40 L258.33,409.42 L259.61,409.44 L260.88,409.47 L262.15,409.49 L263.42,409.52 L264.69,409.55 L265.96,409.58 L267.24,409.61 L268.51,409.64 L269.78,409.67 L271.05,409.71 L272.32,409.75 L273.59,409.79 L274.87,409.83 L276.14,409.87 L277.41,409.92 L278.68,409.97 L279.95,410.03 L281.22,410.08 L282.49,410.14 L283.77,410.21 L285.04,410.27 L286.31,410.35 L287.58,410.42 L288.85,410.50 L290.12,410.59 L291.40,410.68 L292.67,410.78 L293.94,410.88 L295.21,410.99 L296.48,411.10 L297.75,411.22 L299.03,411.35 L300.30,411.48 L301.57,411.62 L302.84,411.77 L304.11,411.93 L305.38,412.09 L306.65,412.26 L307.93,412.44 L309.20,412.62 L310.47,412.82 L311.74,413.02 L313.01,413.23 L314.28,413.45 L315.56,413.68 L316.83,413.92 L318.10,414.17 L319.37,414.43 L320.64,414.70 L321.91,414.98 L323.18,415.27 L324.46,415.57 L325.73,415.88 L327.00,416.20 L328.27,416.54 L329.54,416.88 L330.81,417.24 L332.09,417.61 L333.36,417.99 L334.63,418.39 L335.90,418.79 L337.17,419.21 L338.44,419.64 L339.72,420.07 L340.99,420.52 L342.26,420.98 L343.53,421.45 L344.80,421.93 L346.07,422.42 L347.34,422.92 L348.62,423.43 L349.89,423.95 L351.16,424.47 L352.43,425.01 L353.70,425.55 L354.97,426.11 L356.25,426.67 L357.52,427.24 L358.79,427.81 L360.06,428.40 L361.33,428.99 L362.60,429.58 L363.88,430.19 L365.15,430.80 L366.42,431.42 L367.69,432.04 L368.96,432.67 L370.23,433.31 L371.50,433.95 L372.78,434.60 L374.05,435.25 L375.32,435.91 L376.59,436.57 L377.86,437.24 L379.13,437.91 L380.41,438.58 L381.68,439.26 L382.95,439.95 L384.22,440.63 L385.49,441.32 L386.76,442.01 L388.04,442.71 L389.31,443.41 L390.58,444.11 L391.85,444.81 L393.12,445.52 L394.39,446.22 L395.66,446.93 L396.94,447.64 L398.21,448.35 L399.48,449.06 L400.75,449.78 L402.02,450.49 L403.29,451.20 L404.57,451.92 L405.84,452.63 L407.11,453.34 L408.38,454.06 L409.65,454.77 L410.92,455.48 L412.19,456.19 L413.47,456.90 L414.74,457.60 L416.01,458.31 L417.28,459.01 L418.55,459.71 L419.82,460.41 L421.10,461.11 L422.37,461.80 L423.64,462.49 L424.91,463.18 L426.18,463.86 L427.45,464.54 L428.73,465.22 L430.00,465.89 L431.27,466.56 L432.54,467.22 L433.81,467.88 L435.08,468.53 L436.35,469.18 L437.63,469.82 L438.90,470.46 L440.17,471.09 L441.44,471.72 L442.71,472.34 L443.98,472.95 L445.26,473.56 L446.53,474.16 L447.80,474.75 L449.07,475.33 L450.34,475.91 L451.61,476.48 L452.89,477.05 L454.16,477.60 L455.43,478.15 L456.70,478.68"/>
<path class="b" d="M76.50,491.06 L77.77,489.57 L79.04,488.09 L80.31,486.62 L81.59,485.16 L82.86,483.72 L84.13,482.28 L85.40,480.86 L86.67,479.45 L87.94,478.06 L89.22,476.67 L90.49,475.30 L91.76,473.95 L93.03,472.60 L94.30,471.27 L95.57,469.95 L96.85,468.65 L98.12,467.35 L99.39,466.08 L100.66,464.81 L101.93,463.56 L103.20,462.32 L104.47,461.10 L105.75,459.89 L107.02,458.70 L108.29,457.52 L109.56,456.35 L110.83,455.20 L112.10,454.06 L113.38,452.94 L114.65,451.83 L115.92,450.74 L117.19,449.66 L118.46,448.60 L119.73,447.55 L121.01,446.52 L122.28,445.51 L123.55,444.51 L124.82,443.52 L126.09,442.55 L127.36,441.60 L128.63,440.66 L129.91,439.74 L131.18,438.84 L132.45,437.95 L133.72,437.08 L134.99,436.23 L136.26,435.39 L137.54,434.57 L138.81,433.77 L140.08,432.98 L141.35,432.21 L142.62,431.45 L143.89,430.71 L145.16,429.99 L146.44,429.29 L147.71,428.60 L148.98,427.93 L150.25,427.27 L151.52,426.64 L152.79,426.01 L154.07,425.41 L155.34,424.82 L156.61,424.25 L157.88,423.69 L159.15,423.15 L160.42,422.62 L161.70,422.11 L162.97,421.61 L164.24,421.13 L165.51,420.66 L166.78,420.20 L168.05,419.76 L169.32,419.33 L170.60,418.92 L171.87,418.52 L173.14,418.13 L174.41,417.75 L175.68,417.39 L176.95,417.04 L178.23,416.69 L179.50,416.37 L180.77,416.05 L182.04,415.74 L183.31,415.45 L184.58,415.16 L185.86,414.89 L187.13,414.62 L188.40,414.37 L189.67,414.13 L190.94,413.89 L192.21,413.67 L193.48,413.45 L194.76,413.25 L196.03,413.05 L197.30,412.86 L198.57,412.68 L199.84,412.51 L201.11,412.35 L202.39,412.19 L203.66,412.05 L204.93,411.91 L206.20,411.77 L207.47,411.65 L208.74,411.53 L210.02,411.42 L211.29,411.31 L212.56,411.21 L213.83,411.12 L215.10,411.03 L216.37,410.95 L217.64,410.87 L218.92,410.80 L220.19,410.73 L221.46,410.67 L222.73,410.62 L224.00,410.56 L225.27,410.51 L226.55,410.47 L227.82,410.43 L229.09,410.39 L230.36,410.36 L231.63,410.33 L232.90,410.30 L234.17,410.28 L235.45,410.25 L236.72,410.24 L237.99,410.22 L239.26,410.21 L240.53,410.20 L241.80,410.19 L243.08,410.18 L244.35,410.18 L245.62,410.18 L246.89,410.18 L248.16,410.19 L249.43,410.20 L250.71,410.20 L251.98,410.22 L253.25,410.23 L254.52,410.25 L255.79,410.26 L257.06,410.28 L258.33,410.31 L259.61,410.33 L260.88,410.36 L262.15,410.38 L263.42,410.41 L264.69,410.44 L265.96,410.48 L267.24,410.51 L268.51,410.55 L269.78,410.58 L271.05,410.62 L272.32,410.66 L273.59,410.71 L274.87,410.75 L276.14,410.80 L277.41,410.85 L278.68,410.90 L279.95,410.96 L281.22,411.02 L282.49,411.08 L283.77,411.15 L285.04,411.22 L286.31,411.30 L287.58,411.38 L288.85,411.46 L290.12,411.55 L291.40,411.65 L292.67,411.75 L293.94,411.86 L295.21,411.97 L296.48,412.09 L297.75,412.21 L299.03,412.34 L300.30,412.48 L301.57,412.62 L302.84,412.77 L304.11,412.93 L305.38,413.10 L306.65,413.27 L307.93,413.46 L309.20,413.65 L310.47,413.85 L311.74,414.05 L313.01,414.27 L314.28,414.50 L315.56,414.73 L316.83,414.98 L318.10,415.23 L319.37,415.50 L320.64,415.77 L321.91,416.06 L323.18,416.36 L324.46,416.66 L325.73,416.98 L327.00,417.31 L328.27,417.66 L329.54,418.01 L330.81,418.37 L332.09,418.75 L333.36,419.14 L334.63,419.54 L335.90,419.96 L337.17,420.38 L338.44,420.82 L339.72,421.27 L340.99,421.73 L342.26,422.20 L343.53,422.68 L344.80,423.17 L346.07,423.67 L347.34,424.19 L348.62,424.71 L349.89,425.24 L351.16,425.78 L352.43,426.33 L353.70,426.89 L354.97,427.46 L356.25,428.04 L357.52,428.63 L358.79,429.22 L360.06,429.83 L361.33,430.44 L362.60,431.06 L363.88,431.69 L365.15,432.32 L366.42,432.97 L367.69,433.62 L368.96,434.27 L370.23,434.94 L371.50,435.61 L372.78,436.29 L374.05,436.97 L375.32,437.66 L376.59,438.36 L377.86,439.06 L379.13,439.77 L380.41,440.48 L381.68,441.20 L382.95,441.93 L384.22,442.66 L385.49,443.39 L386.76,444.13 L388.04,444.87 L389.31,445.62 L390.58,446.37 L391.85,447.12 L393.12,447.88 L394.39,448.65 L395.66,449.41 L396.94,450.18 L398.21,450.95 L399.48,451.73 L400.75,452.50 L402.02,453.28 L403.29,454.06 L404.57,454.85 L405.84,455.63 L407.11,456.42 L408.38,457.21 L409.65,458.00 L410.92,458.79 L412.19,459.59 L413.47,460.38 L414.74,461.17 L416.01,461.97 L417.28,462.76 L418.55,463.56 L419.82,464.35 L421.10,465.15 L422.37,465.94 L423.64,466.73 L424.91,467.53 L426.18,468.32 L427.45,469.11 L428.73,469.90 L430.00,470.68 L431.27,471.47 L432.54,472.25 L433.81,473.04 L435.08,473.82 L436.35,474.59 L437.63,475.37 L438.90,476.14 L440.17,476.91 L441.44,477.67 L442.71,478.44 L443.98,479.20 L445.26,479.95 L446.53,480.70 L447.80,481.45 L449.07,482.19 L450.34,482.93 L451.61,483.66 L452.89,484.39 L454.16,485.12 L455.43,485.84 L456.70,486.55"/>
<path class="b" d="M76.50,491.29 L77.77,489.85 L79.04,488.43 L80.31,487.00 L81.59,485.59 L82.86,484.19 L84.13,482.79 L85.40,481.40 L86.67,480.03 L87.94,478.66 L89.22,477.30 L90.49,475.95 L91.76,474.61 L93.03,473.28 L94.30,471.97 L95.57,470.66 L96.85,469.37 L98.12,468.08 L99.39,466.81 L100.66,465.56 L101.93,464.31 L103.20,463.08 L104.47,461.86 L105.75,460.65 L107.02,459.45 L108.29,458.27 L109.56,457.11 L110.83,455.96 L112.10,454.82 L113.38,453.70 L114.65,452.59 L115.92,451.50 L117.19,450.43 L118.46,449.37 L119.73,448.33 L121.01,447.30 L122.28,446.29 L123.55,445.30 L124.82,444.32 L126.09,443.36 L127.36,442.43 L128.63,441.50 L129.91,440.60 L131.18,439.72 L132.45,438.85 L133.72,438.01 L134.99,437.18 L136.26,436.37 L137.54,435.57 L138.81,434.80 L140.08,434.04 L141.35,433.29 L142.62,432.57 L143.89,431.86 L145.16,431.17 L146.44,430.49 L147.71,429.83 L148.98,429.19 L150.25,428.56 L151.52,427.95 L152.79,427.35 L154.07,426.77 L155.34,426.20 L156.61,425.65 L157.88,425.11 L159.15,424.58 L160.42,424.07 L161.70,423.57 L162.97,423.09 L164.24,422.62 L165.51,422.16 L166.78,421.72 L168.05,421.28 L169.32,420.86 L170.60,420.46 L171.87,420.06 L173.14,419.68 L174.41,419.30 L175.68,418.94 L176.95,418.59 L178.23,418.25 L179.50,417.93 L180.77,417.61 L182.04,417.30 L183.31,417.00 L184.58,416.72 L185.86,416.44 L187.13,416.17 L188.40,415.91 L189.67,415.66 L190.94,415.42 L192.21,415.19 L193.48,414.97 L194.76,414.75 L196.03,414.54 L197.30,414.34 L198.57,414.15 L199.84,413.97 L201.11,413.79 L202.39,413.62 L203.66,413.45 L204.93,413.30 L206.20,413.15 L207.47,413.00 L208.74,412.87 L210.02,412.74 L211.29,412.61 L212.56,412.50 L213.83,412.38 L215.10,412.28 L216.37,412.18 L217.64,412.09 L218.92,412.00 L220.19,411.91 L221.46,411.84 L222.73,411.77 L224.00,411.70 L225.27,411.64 L226.55,411.58 L227.82,411.53 L229.09,411.49 L230.36,411.44 L231.63,411.41 L232.90,411.38 L234.17,411.35 L235.45,411.33 L236.72,411.31 L237.99,411.29 L239.26,411.28 L240.53,411.27 L241.80,411.27 L243.08,411.27 L244.35,411.28 L245.62,411.29 L246.89,411.30 L248.16,411.31 L249.43,411.33 L250.71,411.35 L251.98,411.38 L253.25,411.40 L254.52,411.43 L255.79,411.47 L257.06,411.51 L258.33,411.55 L259.61,411.59 L260.88,411.64 L262.15,411.69 L263.42,411.75 L264.69,411.81 L265.96,411.87 L267.24,411.94 L268.51,412.01 L269.78,412.09 L271.05,412.17 L272.32,412.25 L273.59,412.34 L274.87,412.43 L276.14,412.53 L277.41,412.63 L278.68,412.74 L279.95,412.85 L281.22,412.96 L282.49,413.08 L283.77,413.21 L285.04,413.34 L286.31,413.47 L287.58,413.61 L288.85,413.76 L290.12,413.91 L291.40,414.07 L292.67,414.23 L293.94,414.39 L295.21,414.57 L296.48,414.74 L297.75,414.93 L299.03,415.12 L300.30,415.31 L301.57,415.51 L302.84,415.72 L304.11,415.94 L305.38,416.16 L306.65,416.39 L307.93,416.63 L309.20,416.88 L310.47,417.14 L311.74,417.41 L313.01,417.69 L314.28,417.99 L315.56,418.29 L316.83,418.61 L318.10,418.95 L319.37,419.30 L320.64,419.66 L321.91,420.04 L323.18,420.44 L324.46,420.85 L325.73,421.28 L327.00,421.73 L328.27,422.20 L329.54,422.69 L330.81,423.20 L332.09,423.73 L333.36,424.27 L334.63,424.84 L335.90,425.43 L337.17,426.04 L338.44,426.66 L339.72,427.30 L340.99,427.95 L342.26,428.63 L343.53,429.31 L344.80,430.01 L346.07,430.73 L347.34,431.46 L348.62,432.19 L349.89,432.95 L351.16,433.71 L352.43,434.48 L353.70,435.26 L354.97,436.05 L356.25,436.85 L357.52,437.66 L358.79,438.47 L360.06,439.29 L361.33,440.11 L362.60,440.94 L363.88,441.78 L365.15,442.61 L366.42,443.45 L367.69,444.30 L368.96,445.15 L370.23,446.00 L371.50,446.85 L372.78,447.71 L374.05,448.58 L375.32,449.45 L376.59,450.33 L377.86,451.22 L379.13,452.11 L380.41,453.01 L381.68,453.91 L382.95,454.83 L384.22,455.75 L385.49,456.68 L386.76,457.63 L388.04,458.58 L389.31,459.54 L390.58,460.51 L391.85,461.49 L393.12,462.49 L394.39,463.49 L395.66,464.51 L396.94,465.54 L398.21,466.58 L399.48,467.64 L400.75,468.71 L402.02,469.78 L403.29,470.88 L404.57,471.98 L405.84,473.09 L407.11,474.21 L408.38,475.35 L409.65,476.49 L410.92,477.64 L412.19,478.81 L413.47,479.98 L414.74,481.16 L416.01,482.34 L417.28,483.54 L418.55,484.74 L419.82,485.95 L421.10,487.17 L422.37,488.39 L423.64,489.62 L424.91,490.86 L426.18,492.10 L427.45,493.35 L428.73,494.60 L430.00,495.85 L431.27,497.11 L432.54,498.37 L433.81,499.64 L435.08,500.91 L436.35,502.18 L437.63,503.46 L438.90,504.73 L440.17,506.01 L441.44,507.29 L442.71,508.57 L443.98,509.85 L445.26,511.14 L446.53,512.42 L447.80,513.70 L449.07,514.98 L450.34,516.26 L451.61,517.54 L452.89,518.82 L454.16,520.09 L455.43,521.37 L456.70,522.64"/>
<path class="k" d="M76.50,548.54 L77.77,546.57 L79.04,544.60 L80.31,542.63 L81.59,540.66 L82.86,538.69 L84.13,536.73 L85.40,534.76 L86.67,532.81 L87.94,530.85 L89.22,528.91 L90.49,526.96 L91.76,525.03 L93.03,523.10 L94.30,521.19 L95.57,519.28 L96.85,517.38 L98.12,515.50 L99.39,513.62 L100.66,511.76 L101.93,509.92 L103.20,508.08 L104.47,506.26 L105.75,504.46 L107.02,502.68 L108.29,500.91 L109.56,499.16 L110.83,497.43 L112.10,495.72 L113.38,494.03 L114.65,492.36 L115.92,490.71 L117.19,489.08 L118.46,487.47 L119.73,485.88 L121.01,484.31 L122.28,482.75 L123.55,481.21 L124.82,479.69 L126.09,478.18 L127.36,476.69 L128.63,475.21 L129.91,473.75 L131.18,472.30 L132.45,470.87 L133.72,469.46 L134.99,468.06 L136.26,466.68 L137.54,465.31 L138.81,463.97 L140.08,462.64 L141.35,461.32 L142.62,460.03 L143.89,458.75 L145.16,457.49 L146.44,456.25 L147.71,455.02 L148.98,453.81 L150.25,452.63 L151.52,451.46 L152.79,450.30 L154.07,449.17 L155.34,448.06 L156.61,446.96 L157.88,445.89 L159.15,444.83 L160.42,443.79 L161.70,442.77 L162.97,441.77 L164.24,440.78 L165.51,439.82 L166.78,438.87 L168.05,437.94 L169.32,437.03 L170.60,436.13 L171.87,435.25 L173.14,434.39 L174.41,433.55 L175.68,432.72 L176.95,431.91 L178.23,431.12 L179.50,430.35 L180.77,429.59 L182.04,428.85 L183.31,428.12 L184.58,427.42 L185.86,426.72 L187.13,426.05 L188.40,425.39 L189.67,424.75 L190.94,424.12 L192.21,423.51 L193.48,422.91 L194.76,422.33 L196.03,421.77 L197.30,421.22 L198.57,420.69 L199.84,420.17 L201.11,419.67 L202.39,419.18 L203.66,418.71 L204.93,418.25 L206.20,417.81 L207.47,417.38 L208.74,416.97 L210.02,416.57 L211.29,416.18 L212.56,415.81 L213.83,415.46 L215.10,415.11 L216.37,414.79 L217.64,414.47 L218.92,414.17 L220.19,413.89 L221.46,413.61 L222.73,413.35 L224.00,413.11 L225.27,412.88 L226.55,412.66 L227.82,412.45 L229.09,412.26 L230.36,412.08 L231.63,411.91 L232.90,411.76 L234.17,411.61 L235.45,411.48 L236.72,411.37 L237.99,411.26 L239.26,411.17 L240.53,411.09 L241.80,411.02 L243.08,410.97 L244.35,410.92 L245.62,410.89 L246.89,410.87 L248.16,410.86 L249.43,410.86 L250.71,410.88 L251.98,410.90 L253.25,410.94 L254.52,410.99 L255.79,411.04 L257.06,411.11 L258.33,411.19 L259.61,411.29 L260.88,411.39 L262.15,411.50 L263.42,411.62 L264.69,411.76 L265.96,411.90 L267.24,412.05 L268.51,412.22 L269.78,412.39 L271.05,412.58 L272.32,412.77 L273.59,412.97 L274.87,413.19 L276.14,413.41 L277.41,413.64 L278.68,413.88 L279.95,414.13 L281.22,414.39 L282.49,414.66 L283.77,414.94 L285.04,415.23 L286.31,415.52 L287.58,415.82 L288.85,416.14 L290.12,416.46 L291.40,416.79 L292.67,417.13 L293.94,417.47 L295.21,417.83 L296.48,418.19 L297.75,418.56 L299.03,418.94 L300.30,419.32 L301.57,419.71 L302.84,420.11 L304.11,420.52 L305.38,420.94 L306.65,421.36 L307.93,421.79 L309.20,422.23 L310.47,422.67 L311.74,423.12 L313.01,423.58 L314.28,424.04 L315.56,424.52 L316.83,424.99 L318.10,425.48 L319.37,425.97 L320.64,426.46 L321.91,426.96 L323.18,427.47 L324.46,427.99 L325.73,428.51 L327.00,429.03 L328.27,429.56 L329.54,430.10 L330.81,430.64 L332.09,431.19 L333.36,431.75 L334.63,432.30 L335.90,432.87 L337.17,433.44 L338.44,434.02 L339.72,434.60 L340.99,435.19 L342.26,435.78 L343.53,436.38 L344.80,436.99 L346.07,437.60 L347.34,438.23 L348.62,438.85 L349.89,439.49 L351.16,440.13 L352.43,440.78 L353.70,441.44 L354.97,442.10 L356.25,442.77 L357.52,443.45 L358.79,444.14 L360.06,444.83 L361.33,445.54 L362.60,446.25 L363.88,446.97 L365.15,447.70 L366.42,448.44 L367.69,449.18 L368.96,449.93 L370.23,450.69 L371.50,451.45 L372.78,452.21 L374.05,452.98 L375.32,453.75 L376.59,454.52 L377.86,455.29 L379.13,456.06 L380.41,456.82 L381.68,457.59 L382.95,458.35 L384.22,459.10 L385.49,459.85 L386.76,460.59 L388.04,461.32 L389.31,462.05 L390.58,462.76 L391.85,463.47 L393.12,464.16 L394.39,464.84 L395.66,465.51 L396.94,466.16 L398.21,466.80 L399.48,467.42 L400.75,468.03 L402.02,468.62 L403.29,469.19 L404.57,469.76 L405.84,470.31 L407.11,470.84 L408.38,471.36 L409.65,471.87 L410.92,472.36 L412.19,472.84 L413.47,473.31 L414.74,473.76 L416.01,474.21 L417.28,474.64 L418.55,475.06 L419.82,475.46 L421.10,475.86 L422.37,476.24 L423.64,476.61 L424.91,476.97 L426.18,477.32 L427.45,477.66 L428.73,477.99 L430.00,478.31 L431.27,478.62 L432.54,478.92 L433.81,479.21 L435.08,479.50 L436.35,479.77 L437.63,480.03 L438.90,480.29 L440.17,480.54 L441.44,480.77 L442.71,481.01 L443.98,481.23 L445.26,481.44 L446.53,481.65 L447.80,481.86 L449.07,482.05 L450.34,482.24 L451.61,482.42 L452.89,482.60 L454.16,482.77 L455.43,482.93 L456.70,483.09"/>
<path class="k" d="M76.50,548.55 L77.77,546.54 L79.04,544.54 L80.31,542.54 L81.59,540.55 L82.86,538.57 L84.13,536.59 L85.40,534.62 L86.67,532.66 L87.94,530.71 L89.22,528.76 L90.49,526.83 L91.76,524.91 L93.03,522.99 L94.30,521.09 L95.57,519.20 L96.85,517.32 L98.12,515.45 L99.39,513.60 L100.66,511.75 L101.93,509.93 L103.20,508.11 L104.47,506.31 L105.75,504.52 L107.02,502.75 L108.29,501.00 L109.56,499.26 L110.83,497.53 L112.10,495.83 L113.38,494.14 L114.65,492.46 L115.92,490.81 L117.19,489.17 L118.46,487.55 L119.73,485.95 L121.01,484.36 L122.28,482.79 L123.55,481.24 L124.82,479.70 L126.09,478.18 L127.36,476.68 L128.63,475.19 L129.91,473.72 L131.18,472.27 L132.45,470.83 L133.72,469.41 L134.99,468.01 L136.26,466.62 L137.54,465.26 L138.81,463.91 L140.08,462.57 L141.35,461.26 L142.62,459.96 L143.89,458.68 L145.16,457.42 L146.44,456.18 L147.71,454.96 L148.98,453.75 L150.25,452.57 L151.52,451.40 L152.79,450.25 L154.07,449.12 L155.34,448.01 L156.61,446.92 L157.88,445.84 L159.15,444.79 L160.42,443.75 L161.70,442.74 L162.97,441.74 L164.24,440.76 L165.51,439.79 L166.78,438.85 L168.05,437.92 L169.32,437.01 L170.60,436.12 L171.87,435.25 L173.14,434.39 L174.41,433.55 L175.68,432.73 L176.95,431.92 L178.23,431.13 L179.50,430.36 L180.77,429.61 L182.04,428.87 L183.31,428.15 L184.58,427.44 L185.86,426.75 L187.13,426.08 L188.40,425.43 L189.67,424.79 L190.94,424.16 L192.21,423.55 L193.48,422.96 L194.76,422.38 L196.03,421.82 L197.30,421.27 L198.57,420.74 L199.84,420.23 L201.11,419.73 L202.39,419.24 L203.66,418.77 L204.93,418.31 L206.20,417.87 L207.47,417.44 L208.74,417.03 L210.02,416.63 L211.29,416.24 L212.56,415.87 L213.83,415.52 L215.10,415.17 L216.37,414.84 L217.64,414.53 L218.92,414.23 L220.19,413.94 L221.46,413.66 L222.73,413.40 L224.00,413.15 L225.27,412.91 L226.55,412.69 L227.82,412.48 L229.09,412.28 L230.36,412.10 L231.63,411.93 L232.90,411.77 L234.17,411.62 L235.45,411.48 L236.72,411.36 L237.99,411.25 L239.26,411.15 L240.53,411.07 L241.80,411.00 L243.08,410.93 L244.35,410.89 L245.62,410.85 L246.89,410.82 L248.16,410.81 L249.43,410.81 L250.71,410.82 L251.98,410.84 L253.25,410.87 L254.52,410.91 L255.79,410.97 L257.06,411.03 L258.33,411.11 L259.61,411.20 L260.88,411.30 L262.15,411.41 L263.42,411.53 L264.69,411.67 L265.96,411.81 L267.24,411.96 L268.51,412.13 L269.78,412.30 L271.05,412.49 L272.32,412.68 L273.59,412.89 L274.87,413.11 L276.14,413.33 L277.41,413.57 L278.68,413.82 L279.95,414.07 L281.22,414.34 L282.49,414.62 L283.77,414.90 L285.04,415.20 L286.31,415.51 L287.58,415.82 L288.85,416.15 L290.12,416.48 L291.40,416.82 L292.67,417.18 L293.94,417.54 L295.21,417.91 L296.48,418.29 L297.75,418.68 L299.03,419.08 L300.30,419.48 L301.57,419.90 L302.84,420.32 L304.11,420.76 L305.38,421.20 L306.65,421.65 L307.93,422.11 L309.20,422.57 L310.47,423.05 L311.74,423.53 L313.01,424.02 L314.28,424.52 L315.56,425.03 L316.83,425.54 L318.10,426.07 L319.37,426.60 L320.64,427.14 L321.91,427.68 L323.18,428.24 L324.46,428.80 L325.73,429.37 L327.00,429.94 L328.27,430.53 L329.54,431.12 L330.81,431.71 L332.09,432.32 L333.36,432.93 L334.63,433.55 L335.90,434.18 L337.17,434.81 L338.44,435.45 L339.72,436.10 L340.99,436.76 L342.26,437.42 L343.53,438.09 L344.80,438.77 L346.07,439.46 L347.34,440.15 L348.62,440.86 L349.89,441.57 L351.16,442.29 L352.43,443.02 L353.70,443.76 L354.97,444.50 L356.25,445.26 L357.52,446.02 L358.79,446.79 L360.06,447.57 L361.33,448.37 L362.60,449.16 L363.88,449.97 L365.15,450.79 L366.42,451.62 L367.69,452.45 L368.96,453.30 L370.23,454.15 L371.50,455.01 L372.78,455.87 L374.05,456.74 L375.32,457.61 L376.59,458.49 L377.86,459.37 L379.13,460.25 L380.41,461.14 L381.68,462.03 L382.95,462.92 L384.22,463.80 L385.49,464.69 L386.76,465.58 L388.04,466.47 L389.31,467.35 L390.58,468.23 L391.85,469.10 L393.12,469.98 L394.39,470.84 L395.66,471.70 L396.94,472.56 L398.21,473.40 L399.48,474.25 L400.75,475.08 L402.02,475.90 L403.29,476.72 L404.57,477.53 L405.84,478.33 L407.11,479.12 L408.38,479.90 L409.65,480.67 L410.92,481.43 L412.19,482.18 L413.47,482.92 L414.74,483.65 L416.01,484.37 L417.28,485.07 L418.55,485.76 L419.82,486.45 L421.10,487.12 L422.37,487.77 L423.64,488.41 L424.91,489.04 L426.18,489.66 L427.45,490.26 L428.73,490.85 L430.00,491.42 L431.27,491.98 L432.54,492.52 L433.81,493.05 L435.08,493.56 L436.35,494.05 L437.63,494.53 L438.90,494.99 L440.17,495.43 L441.44,495.86 L442.71,496.27 L443.98,496.66 L445.26,497.03 L446.53,497.38 L447.80,497.71 L449.07,498.03 L450.34,498.32 L451.61,498.60 L452.89,498.85 L454.16,499.09 L455.43,499.30 L456.70,499.49"/>
<path class="k" d="M76.50,548.72 L77.77,546.82 L79.04,544.91 L80.31,542.98 L81.59,541.05 L82.86,539.10 L84.13,537.15 L85.40,535.20 L86.67,533.24 L87.94,531.28 L89.22,529.33 L90.49,527.37 L91.76,525.41 L93.03,523.46 L94.30,521.52 L95.57,519.58 L96.85,517.65 L98.12,515.74 L99.39,513.83 L100.66,511.94 L101.93,510.06 L103.20,508.20 L104.47,506.35 L105.75,504.53 L107.02,502.72 L108.29,500.94 L109.56,499.18 L110.83,497.45 L112.10,495.75 L113.38,494.07 L114.65,492.42 L115.92,490.80 L117.19,489.20 L118.46,487.62 L119.73,486.06 L121.01,484.53 L122.28,483.00 L123.55,481.49 L124.82,479.99 L126.09,478.50 L127.36,477.03 L128.63,475.56 L129.91,474.10 L131.18,472.65 L132.45,471.21 L133.72,469.79 L134.99,468.38 L136.26,466.99 L137.54,465.61 L138.81,464.24 L140.08,462.89 L141.35,461.56 L142.62,460.24 L143.89,458.94 L145.16,457.67 L146.44,456.41 L147.71,455.17 L148.98,453.95 L150.25,452.75 L151.52,451.57 L152.79,450.42 L154.07,449.29 L155.34,448.18 L156.61,447.09 L157.88,446.03 L159.15,444.98 L160.42,443.96 L161.70,442.95 L162.97,441.96 L164.24,440.99 L165.51,440.04 L166.78,439.10 L168.05,438.18 L169.32,437.27 L170.60,436.38 L171.87,435.51 L173.14,434.65 L174.41,433.81 L175.68,432.98 L176.95,432.17 L178.23,431.37 L179.50,430.59 L180.77,429.83 L182.04,429.08 L183.31,428.35 L184.58,427.63 L185.86,426.93 L187.13,426.25 L188.40,425.58 L189.67,424.92 L190.94,424.28 L192.21,423.66 L193.48,423.06 L194.76,422.47 L196.03,421.89 L197.30,421.33 L198.57,420.79 L199.84,420.26 L201.11,419.75 L202.39,419.25 L203.66,418.77 L204.93,418.31 L206.20,417.86 L207.47,417.42 L208.74,417.00 L210.02,416.60 L211.29,416.21 L212.56,415.84 L213.83,415.49 L215.10,415.15 L216.37,414.82 L217.64,414.51 L218.92,414.22 L220.19,413.94 L221.46,413.68 L222.73,413.43 L224.00,413.20 L225.27,412.98 L226.55,412.78 L227.82,412.60 L229.09,412.43 L230.36,412.27 L231.63,412.13 L232.90,412.01 L234.17,411.90 L235.45,411.81 L236.72,411.73 L237.99,411.67 L239.26,411.62 L240.53,411.59 L241.80,411.57 L243.08,411.56 L244.35,411.58 L245.62,411.60 L246.89,411.64 L248.16,411.69 L249.43,411.76 L250.71,411.84 L251.98,411.94 L253.25,412.05 L254.52,412.17 L255.79,412.31 L257.06,412.46 L258.33,412.62 L259.61,412.80 L260.88,412.99 L262.15,413.19 L263.42,413.41 L264.69,413.64 L265.96,413.88 L267.24,414.14 L268.51,414.41 L269.78,414.69 L271.05,414.98 L272.32,415.28 L273.59,415.60 L274.87,415.93 L276.14,416.28 L277.41,416.63 L278.68,417.00 L279.95,417.38 L281.22,417.77 L282.49,418.18 L283.77,418.60 L285.04,419.03 L286.31,419.47 L287.58,419.93 L288.85,420.40 L290.12,420.88 L291.40,421.37 L292.67,421.88 L293.94,422.40 L295.21,422.93 L296.48,423.48 L297.75,424.04 L299.03,424.61 L300.30,425.19 L301.57,425.79 L302.84,426.39 L304.11,427.01 L305.38,427.65 L306.65,428.29 L307.93,428.95 L309.20,429.62 L310.47,430.31 L311.74,431.00 L313.01,431.71 L314.28,432.43 L315.56,433.16 L316.83,433.90 L318.10,434.65 L319.37,435.42 L320.64,436.20 L321.91,436.99 L323.18,437.79 L324.46,438.60 L325.73,439.42 L327.00,440.26 L328.27,441.10 L329.54,441.96 L330.81,442.83 L332.09,443.71 L333.36,444.60 L334.63,445.50 L335.90,446.41 L337.17,447.33 L338.44,448.27 L339.72,449.21 L340.99,450.16 L342.26,451.13 L343.53,452.10 L344.80,453.09 L346.07,454.08 L347.34,455.09 L348.62,456.10 L349.89,457.13 L351.16,458.16 L352.43,459.21 L353.70,460.26 L354.97,461.33 L356.25,462.40 L357.52,463.49 L358.79,464.58 L360.06,465.68 L361.33,466.79 L362.60,467.91 L363.88,469.04 L365.15,470.18 L366.42,471.33 L367.69,472.49 L368.96,473.66 L370.23,474.83 L371.50,476.01 L372.78,477.20 L374.05,478.40 L375.32,479.61 L376.59,480.82 L377.86,482.04 L379.13,483.27 L380.41,484.50 L381.68,485.74 L382.95,486.99 L384.22,488.24 L385.49,489.50 L386.76,490.76 L388.04,492.03 L389.31,493.31 L390.58,494.59 L391.85,495.88 L393.12,497.17 L394.39,498.46 L395.66,499.76 L396.94,501.06 L398.21,502.37 L399.48,503.68 L400.75,504.99 L402.02,506.31 L403.29,507.63 L404.57,508.95 L405.84,510.28 L407.11,511.61 L408.38,512.94 L409.65,514.27 L410.92,515.60 L412.19,516.94 L413.47,518.27 L414.74,519.61 L416.01,520.95 L417.28,522.29 L418.55,523.63 L419.82,524.97 L421.10,526.31 L422.37,527.65 L423.64,528.99 L424.91,530.33 L426.18,531.67 L427.45,533.01 L428.73,534.35 L430.00,535.68 L431.27,537.02 L432.54,538.35 L433.81,539.68 L435.08,541.01 L436.35,542.33 L437.63,543.66 L438.90,544.98 L440.17,546.29 L441.44,547.61 L442.71,548.92 L443.98,550.23 L445.26,551.53 L446.53,552.83 L447.80,554.13 L449.07,555.42 L450.34,556.70 L451.61,557.98 L452.89,559.26 L454.16,560.53 L455.43,561.80 L456.70,563.06"/>
<path class="r" d="M76.50,510.33 L77.77,509.00 L79.04,507.64 L80.31,506.27 L81.59,504.87 L82.86,503.46 L84.13,502.03 L85.40,500.58 L86.67,499.13 L87.94,497.66 L89.22,496.18 L90.49,494.70 L91.76,493.22 L93.03,491.73 L94.30,490.24 L95.57,488.75 L96.85,487.26 L98.12,485.78 L99.39,484.31 L100.66,482.84 L101.93,481.39 L103.20,479.95 L104.47,478.52 L105.75,477.11 L107.02,475.71 L108.29,474.34 L109.56,472.99 L110.83,471.66 L112.10,470.36 L113.38,469.09 L114.65,467.84 L115.92,466.62 L117.19,465.43 L118.46,464.26 L119.73,463.12 L121.01,462.00 L122.28,460.90 L123.55,459.81 L124.82,458.75 L126.09,457.70 L127.36,456.67 L128.63,455.65 L129.91,454.64 L131.18,453.64 L132.45,452.66 L133.72,451.68 L134.99,450.71 L136.26,449.75 L137.54,448.81 L138.81,447.87 L140.08,446.95 L141.35,446.03 L142.62,445.13 L143.89,444.24 L145.16,443.36 L146.44,442.49 L147.71,441.64 L148.98,440.79 L150.25,439.96 L151.52,439.14 L152.79,438.33 L154.07,437.54 L155.34,436.76 L156.61,435.99 L157.88,435.23 L159.15,434.49 L160.42,433.76 L161.70,433.05 L162.97,432.34 L164.24,431.66 L165.51,430.98 L166.78,430.33 L168.05,429.68 L169.32,429.05 L170.60,428.44 L171.87,427.84 L173.14,427.26 L174.41,426.69 L175.68,426.14 L176.95,425.60 L178.23,425.07 L179.50,424.56 L180.77,424.07 L182.04,423.59 L183.31,423.12 L184.58,422.66 L185.86,422.21 L187.13,421.78 L188.40,421.36 L189.67,420.95 L190.94,420.55 L192.21,420.16 L193.48,419.79 L194.76,419.42 L196.03,419.06 L197.30,418.71 L198.57,418.37 L199.84,418.04 L201.11,417.72 L202.39,417.41 L203.66,417.10 L204.93,416.80 L206.20,416.51 L207.47,416.23 L208.74,415.95 L210.02,415.67 L211.29,415.41 L212.56,415.14 L213.83,414.89 L215.10,414.64 L216.37,414.39 L217.64,414.15 L218.92,413.92 L220.19,413.69 L221.46,413.47 L222.73,413.26 L224.00,413.05 L225.27,412.85 L226.55,412.66 L227.82,412.47 L229.09,412.30 L230.36,412.13 L231.63,411.97 L232.90,411.82 L234.17,411.67 L235.45,411.54 L236.72,411.41 L237.99,411.30 L239.26,411.19 L240.53,411.09 L241.80,411.00 L243.08,410.91 L244.35,410.84 L245.62,410.77 L246.89,410.72 L248.16,410.67 L249.43,410.63 L250.71,410.60 L251.98,410.58 L253.25,410.57 L254.52,410.56 L255.79,410.57 L257.06,410.59 L258.33,410.61 L259.61,410.64 L260.88,410.68 L262.15,410.73 L263.42,410.79 L264.69,410.86 L265.96,410.94 L267.24,411.03 L268.51,411.12 L269.78,411.23 L271.05,411.34 L272.32,411.47 L273.59,411.60 L274.87,411.74 L276.14,411.90 L277.41,412.06 L278.68,412.23 L279.95,412.41 L281.22,412.60 L282.49,412.79 L283.77,413.00 L285.04,413.22 L286.31,413.45 L287.58,413.68 L288.85,413.93 L290.12,414.19 L291.40,414.45 L292.67,414.73 L293.94,415.01 L295.21,415.30 L296.48,415.61 L297.75,415.92 L299.03,416.25 L300.30,416.58 L301.57,416.92 L302.84,417.27 L304.11,417.64 L305.38,418.01 L306.65,418.39 L307.93,418.78 L309.20,419.19 L310.47,419.60 L311.74,420.02 L313.01,420.45 L314.28,420.89 L315.56,421.34 L316.83,421.81 L318.10,422.28 L319.37,422.76 L320.64,423.25 L321.91,423.76 L323.18,424.27 L324.46,424.79 L325.73,425.32 L327.00,425.87 L328.27,426.42 L329.54,426.98 L330.81,427.56 L332.09,428.14 L333.36,428.74 L334.63,429.34 L335.90,429.95 L337.17,430.57 L338.44,431.20 L339.72,431.84 L340.99,432.48 L342.26,433.13 L343.53,433.78 L344.80,434.44 L346.07,435.10 L347.34,435.76 L348.62,436.43 L349.89,437.10 L351.16,437.78 L352.43,438.45 L353.70,439.13 L354.97,439.80 L356.25,440.48 L357.52,441.15 L358.79,441.82 L360.06,442.49 L361.33,443.16 L362.60,443.83 L363.88,444.49 L365.15,445.14 L366.42,445.80 L367.69,446.44 L368.96,447.09 L370.23,447.72 L371.50,448.36 L372.78,448.98 L374.05,449.61 L375.32,450.23 L376.59,450.84 L377.86,451.45 L379.13,452.06 L380.41,452.66 L381.68,453.26 L382.95,453.85 L384.22,454.44 L385.49,455.02 L386.76,455.60 L388.04,456.17 L389.31,456.74 L390.58,457.31 L391.85,457.87 L393.12,458.43 L394.39,458.98 L395.66,459.53 L396.94,460.07 L398.21,460.61 L399.48,461.15 L400.75,461.68 L402.02,462.21 L403.29,462.73 L404.57,463.24 L405.84,463.75 L407.11,464.25 L408.38,464.74 L409.65,465.23 L410.92,465.71 L412.19,466.18 L413.47,466.65 L414.74,467.10 L416.01,467.55 L417.28,467.98 L418.55,468.41 L419.82,468.83 L421.10,469.23 L422.37,469.63 L423.64,470.01 L424.91,470.39 L426.18,470.75 L427.45,471.10 L428.73,471.44 L430.00,471.76 L431.27,472.07 L432.54,472.37 L433.81,472.65 L435.08,472.92 L436.35,473.18 L437.63,473.42 L438.90,473.64 L440.17,473.85 L441.44,474.04 L442.71,474.22 L443.98,474.38 L445.26,474.53 L446.53,474.65 L447.80,474.76 L449.07,474.85 L450.34,474.93 L451.61,474.98 L452.89,475.02 L454.16,475.03 L455.43,475.03 L456.70,475.00"/>
<path class="r" d="M76.50,510.64 L77.77,509.28 L79.04,507.91 L80.31,506.51 L81.59,505.11 L82.86,503.69 L84.13,502.25 L85.40,500.81 L86.67,499.36 L87.94,497.90 L89.22,496.43 L90.49,494.96 L91.76,493.48 L93.03,492.01 L94.30,490.53 L95.57,489.06 L96.85,487.59 L98.12,486.13 L99.39,484.67 L100.66,483.22 L101.93,481.78 L103.20,480.35 L104.47,478.93 L105.75,477.53 L107.02,476.14 L108.29,474.77 L109.56,473.42 L110.83,472.09 L112.10,470.78 L113.38,469.49 L114.65,468.23 L115.92,467.00 L117.19,465.78 L118.46,464.59 L119.73,463.42 L121.01,462.27 L122.28,461.14 L123.55,460.03 L124.82,458.94 L126.09,457.87 L127.36,456.81 L128.63,455.78 L129.91,454.75 L131.18,453.74 L132.45,452.75 L133.72,451.77 L134.99,450.80 L136.26,449.85 L137.54,448.92 L138.81,447.99 L140.08,447.08 L141.35,446.19 L142.62,445.30 L143.89,444.44 L145.16,443.58 L146.44,442.74 L147.71,441.91 L148.98,441.10 L150.25,440.29 L151.52,439.50 L152.79,438.73 L154.07,437.96 L155.34,437.21 L156.61,436.47 L157.88,435.75 L159.15,435.03 L160.42,434.33 L161.70,433.64 L162.97,432.97 L164.24,432.30 L165.51,431.65 L166.78,431.01 L168.05,430.38 L169.32,429.76 L170.60,429.15 L171.87,428.56 L173.14,427.98 L174.41,427.40 L175.68,426.84 L176.95,426.29 L178.23,425.75 L179.50,425.23 L180.77,424.71 L182.04,424.20 L183.31,423.71 L184.58,423.22 L185.86,422.75 L187.13,422.28 L188.40,421.83 L189.67,421.38 L190.94,420.95 L192.21,420.53 L193.48,420.12 L194.76,419.71 L196.03,419.32 L197.30,418.94 L198.57,418.56 L199.84,418.20 L201.11,417.85 L202.39,417.50 L203.66,417.17 L204.93,416.84 L206.20,416.53 L207.47,416.22 L208.74,415.93 L210.02,415.64 L211.29,415.36 L212.56,415.09 L213.83,414.83 L215.10,414.58 L216.37,414.34 L217.64,414.10 L218.92,413.88 L220.19,413.66 L221.46,413.45 L222.73,413.25 L224.00,413.06 L225.27,412.88 L226.55,412.70 L227.82,412.53 L229.09,412.37 L230.36,412.22 L231.63,412.08 L232.90,411.95 L234.17,411.82 L235.45,411.70 L236.72,411.59 L237.99,411.49 L239.26,411.39 L240.53,411.31 L241.80,411.23 L243.08,411.16 L244.35,411.09 L245.62,411.04 L246.89,410.99 L248.16,410.96 L249.43,410.93 L250.71,410.91 L251.98,410.89 L253.25,410.89 L254.52,410.89 L255.79,410.91 L257.06,410.93 L258.33,410.96 L259.61,411.00 L260.88,411.04 L262.15,411.10 L263.42,411.16 L264.69,411.24 L265.96,411.32 L267.24,411.41 L268.51,411.51 L269.78,411.62 L271.05,411.73 L272.32,411.86 L273.59,411.99 L274.87,412.14 L276.14,412.29 L277.41,412.45 L278.68,412.62 L279.95,412.80 L281.22,412.99 L282.49,413.19 L283.77,413.39 L285.04,413.61 L286.31,413.83 L287.58,414.07 L288.85,414.31 L290.12,414.57 L291.40,414.83 L292.67,415.10 L293.94,415.38 L295.21,415.67 L296.48,415.97 L297.75,416.28 L299.03,416.60 L300.30,416.93 L301.57,417.26 L302.84,417.61 L304.11,417.97 L305.38,418.34 L306.65,418.71 L307.93,419.10 L309.20,419.49 L310.47,419.90 L311.74,420.32 L313.01,420.74 L314.28,421.18 L315.56,421.62 L316.83,422.08 L318.10,422.54 L319.37,423.02 L320.64,423.50 L321.91,424.00 L323.18,424.50 L324.46,425.02 L325.73,425.54 L327.00,426.08 L328.27,426.62 L329.54,427.18 L330.81,427.74 L332.09,428.32 L333.36,428.91 L334.63,429.50 L335.90,430.11 L337.17,430.72 L338.44,431.35 L339.72,431.98 L340.99,432.62 L342.26,433.26 L343.53,433.92 L344.80,434.58 L346.07,435.25 L347.34,435.92 L348.62,436.60 L349.89,437.29 L351.16,437.98 L352.43,438.67 L353.70,439.37 L354.97,440.08 L356.25,440.79 L357.52,441.50 L358.79,442.21 L360.06,442.93 L361.33,443.65 L362.60,444.38 L363.88,445.10 L365.15,445.83 L366.42,446.55 L367.69,447.28 L368.96,448.01 L370.23,448.74 L371.50,449.47 L372.78,450.20 L374.05,450.92 L375.32,451.65 L376.59,452.38 L377.86,453.10 L379.13,453.82 L380.41,454.54 L381.68,455.25 L382.95,455.96 L384.22,456.67 L385.49,457.38 L386.76,458.08 L388.04,458.77 L389.31,459.46 L390.58,460.15 L391.85,460.83 L393.12,461.50 L394.39,462.17 L395.66,462.83 L396.94,463.48 L398.21,464.13 L399.48,464.77 L400.75,465.40 L402.02,466.03 L403.29,466.64 L404.57,467.25 L405.84,467.85 L407.11,468.45 L408.38,469.04 L409.65,469.62 L410.92,470.19 L412.19,470.75 L413.47,471.31 L414.74,471.86 L416.01,472.40 L417.28,472.94 L418.55,473.46 L419.82,473.98 L421.10,474.49 L422.37,475.00 L423.64,475.49 L424.91,475.98 L426.18,476.46 L427.45,476.93 L428.73,477.40 L430.00,477.85 L431.27,478.30 L432.54,478.74 L433.81,479.18 L435.08,479.60 L436.35,480.02 L437.63,480.43 L438.90,480.83 L440.17,481.22 L441.44,481.61 L442.71,481.99 L443.98,482.36 L445.26,482.72 L446.53,483.07 L447.80,483.42 L449.07,483.75 L450.34,484.08 L451.61,484.40 L452.89,484.72 L454.16,485.02 L455.43,485.32 L456.70,485.60"/>
<path class="r" d="M76.50,512.64 L77.77,511.32 L79.04,509.98 L80.31,508.62 L81.59,507.24 L82.86,505.85 L84.13,504.45 L85.40,503.04 L86.67,501.62 L87.94,500.19 L89.22,498.76 L90.49,497.32 L91.76,495.88 L93.03,494.43 L94.30,492.99 L95.57,491.54 L96.85,490.10 L98.12,488.66 L99.39,487.23 L100.66,485.80 L101.93,484.38 L103.20,482.97 L104.47,481.57 L105.75,480.18 L107.02,478.81 L108.29,477.45 L109.56,476.11 L110.83,474.79 L112.10,473.48 L113.38,472.20 L114.65,470.94 L115.92,469.70 L117.19,468.48 L118.46,467.28 L119.73,466.11 L121.01,464.95 L122.28,463.82 L123.55,462.70 L124.82,461.61 L126.09,460.53 L127.36,459.48 L128.63,458.44 L129.91,457.43 L131.18,456.43 L132.45,455.46 L133.72,454.50 L134.99,453.56 L136.26,452.63 L137.54,451.73 L138.81,450.84 L140.08,449.97 L141.35,449.12 L142.62,448.28 L143.89,447.46 L145.16,446.65 L146.44,445.86 L147.71,445.09 L148.98,444.33 L150.25,443.58 L151.52,442.85 L152.79,442.14 L154.07,441.43 L155.34,440.74 L156.61,440.06 L157.88,439.40 L159.15,438.75 L160.42,438.11 L161.70,437.48 L162.97,436.86 L164.24,436.26 L165.51,435.66 L166.78,435.08 L168.05,434.50 L169.32,433.93 L170.60,433.37 L171.87,432.81 L173.14,432.25 L174.41,431.70 L175.68,431.15 L176.95,430.60 L178.23,430.04 L179.50,429.48 L180.77,428.92 L182.04,428.36 L183.31,427.79 L184.58,427.22 L185.86,426.65 L187.13,426.07 L188.40,425.51 L189.67,424.94 L190.94,424.37 L192.21,423.81 L193.48,423.26 L194.76,422.71 L196.03,422.16 L197.30,421.63 L198.57,421.10 L199.84,420.58 L201.11,420.07 L202.39,419.58 L203.66,419.10 L204.93,418.62 L206.20,418.17 L207.47,417.72 L208.74,417.30 L210.02,416.88 L211.29,416.48 L212.56,416.10 L213.83,415.74 L215.10,415.39 L216.37,415.06 L217.64,414.75 L218.92,414.45 L220.19,414.16 L221.46,413.89 L222.73,413.63 L224.00,413.39 L225.27,413.16 L226.55,412.94 L227.82,412.74 L229.09,412.55 L230.36,412.37 L231.63,412.20 L232.90,412.04 L234.17,411.89 L235.45,411.76 L236.72,411.64 L237.99,411.52 L239.26,411.42 L240.53,411.33 L241.80,411.25 L243.08,411.18 L244.35,411.13 L245.62,411.08 L246.89,411.04 L248.16,411.02 L249.43,411.01 L250.71,411.01 L251.98,411.02 L253.25,411.04 L254.52,411.07 L255.79,411.12 L257.06,411.17 L258.33,411.24 L259.61,411.32 L260.88,411.41 L262.15,411.51 L263.42,411.62 L264.69,411.74 L265.96,411.88 L267.24,412.02 L268.51,412.18 L269.78,412.35 L271.05,412.53 L272.32,412.72 L273.59,412.92 L274.87,413.14 L276.14,413.36 L277.41,413.60 L278.68,413.85 L279.95,414.11 L281.22,414.38 L282.49,414.66 L283.77,414.96 L285.04,415.26 L286.31,415.58 L287.58,415.91 L288.85,416.25 L290.12,416.60 L291.40,416.97 L292.67,417.34 L293.94,417.73 L295.21,418.12 L296.48,418.53 L297.75,418.95 L299.03,419.39 L300.30,419.83 L301.57,420.28 L302.84,420.75 L304.11,421.23 L305.38,421.72 L306.65,422.22 L307.93,422.73 L309.20,423.25 L310.47,423.79 L311.74,424.33 L313.01,424.89 L314.28,425.46 L315.56,426.03 L316.83,426.62 L318.10,427.22 L319.37,427.83 L320.64,428.45 L321.91,429.09 L323.18,429.73 L324.46,430.38 L325.73,431.04 L327.00,431.71 L328.27,432.40 L329.54,433.09 L330.81,433.79 L332.09,434.51 L333.36,435.23 L334.63,435.96 L335.90,436.71 L337.17,437.46 L338.44,438.22 L339.72,438.99 L340.99,439.78 L342.26,440.57 L343.53,441.37 L344.80,442.18 L346.07,443.00 L347.34,443.83 L348.62,444.66 L349.89,445.51 L351.16,446.37 L352.43,447.23 L353.70,448.11 L354.97,448.99 L356.25,449.88 L357.52,450.78 L358.79,451.69 L360.06,452.61 L361.33,453.54 L362.60,454.47 L363.88,455.42 L365.15,456.37 L366.42,457.33 L367.69,458.30 L368.96,459.28 L370.23,460.26 L371.50,461.26 L372.78,462.26 L374.05,463.27 L375.32,464.28 L376.59,465.31 L377.86,466.34 L379.13,467.38 L380.41,468.43 L381.68,469.49 L382.95,470.55 L384.22,471.62 L385.49,472.70 L386.76,473.78 L388.04,474.88 L389.31,475.97 L390.58,477.08 L391.85,478.19 L393.12,479.30 L394.39,480.42 L395.66,481.55 L396.94,482.68 L398.21,483.82 L399.48,484.96 L400.75,486.10 L402.02,487.25 L403.29,488.40 L404.57,489.56 L405.84,490.72 L407.11,491.88 L408.38,493.06 L409.65,494.23 L410.92,495.42 L412.19,496.61 L413.47,497.80 L414.74,499.00 L416.01,500.21 L417.28,501.42 L418.55,502.63 L419.82,503.85 L421.10,505.06 L422.37,506.28 L423.64,507.51 L424.91,508.73 L426.18,509.95 L427.45,511.17 L428.73,512.39 L430.00,513.61 L431.27,514.83 L432.54,516.05 L433.81,517.27 L435.08,518.49 L436.35,519.71 L437.63,520.93 L438.90,522.16 L440.17,523.38 L441.44,524.60 L442.71,525.83 L443.98,527.06 L445.26,528.29 L446.53,529.52 L447.80,530.75 L449.07,531.99 L450.34,533.23 L451.61,534.47 L452.89,535.72 L454.16,536.96 L455.43,538.21 L456.70,539.47"/>
<text class="ti" x="266.3" y="321.3" text-anchor="middle">II</text>
<text class="ax" x="266.5" y="598.8" text-anchor="middle">r</text>
<g transform="translate(24,438.6)" fill="none" stroke="#000" stroke-linecap="round">
<path d="M1.5,5.2 C0.2,4.6 0.4,2.6 1.8,1.7 C3.6,0.4 6.0,0.1 8.0,0.7 C10.0,1.3 11.8,1.4 13.2,0.2" stroke-width="1.15"/>
<path d="M6.8,0.9 C6.4,3 5.4,6.2 4.5,8.4 C3.8,10.2 2.8,11.3 1.6,11.4 C1.1,11.4 0.8,11.2 0.7,10.9" stroke-width="1.45"/>
<path d="M4.3,5.5 L9.8,5.2" stroke-width="0.8"/>
<circle cx="1.3" cy="4.7" r="0.5" fill="#000" stroke-width="0.4"/>
<circle cx="1.0" cy="10.8" r="0.5" fill="#000" stroke-width="0.4"/>
</g>
<text class="sub" x="35" y="452.4">1</text>
<text class="sub" x="42.8" y="452.6">s</text>
</svg>
</body></html>
